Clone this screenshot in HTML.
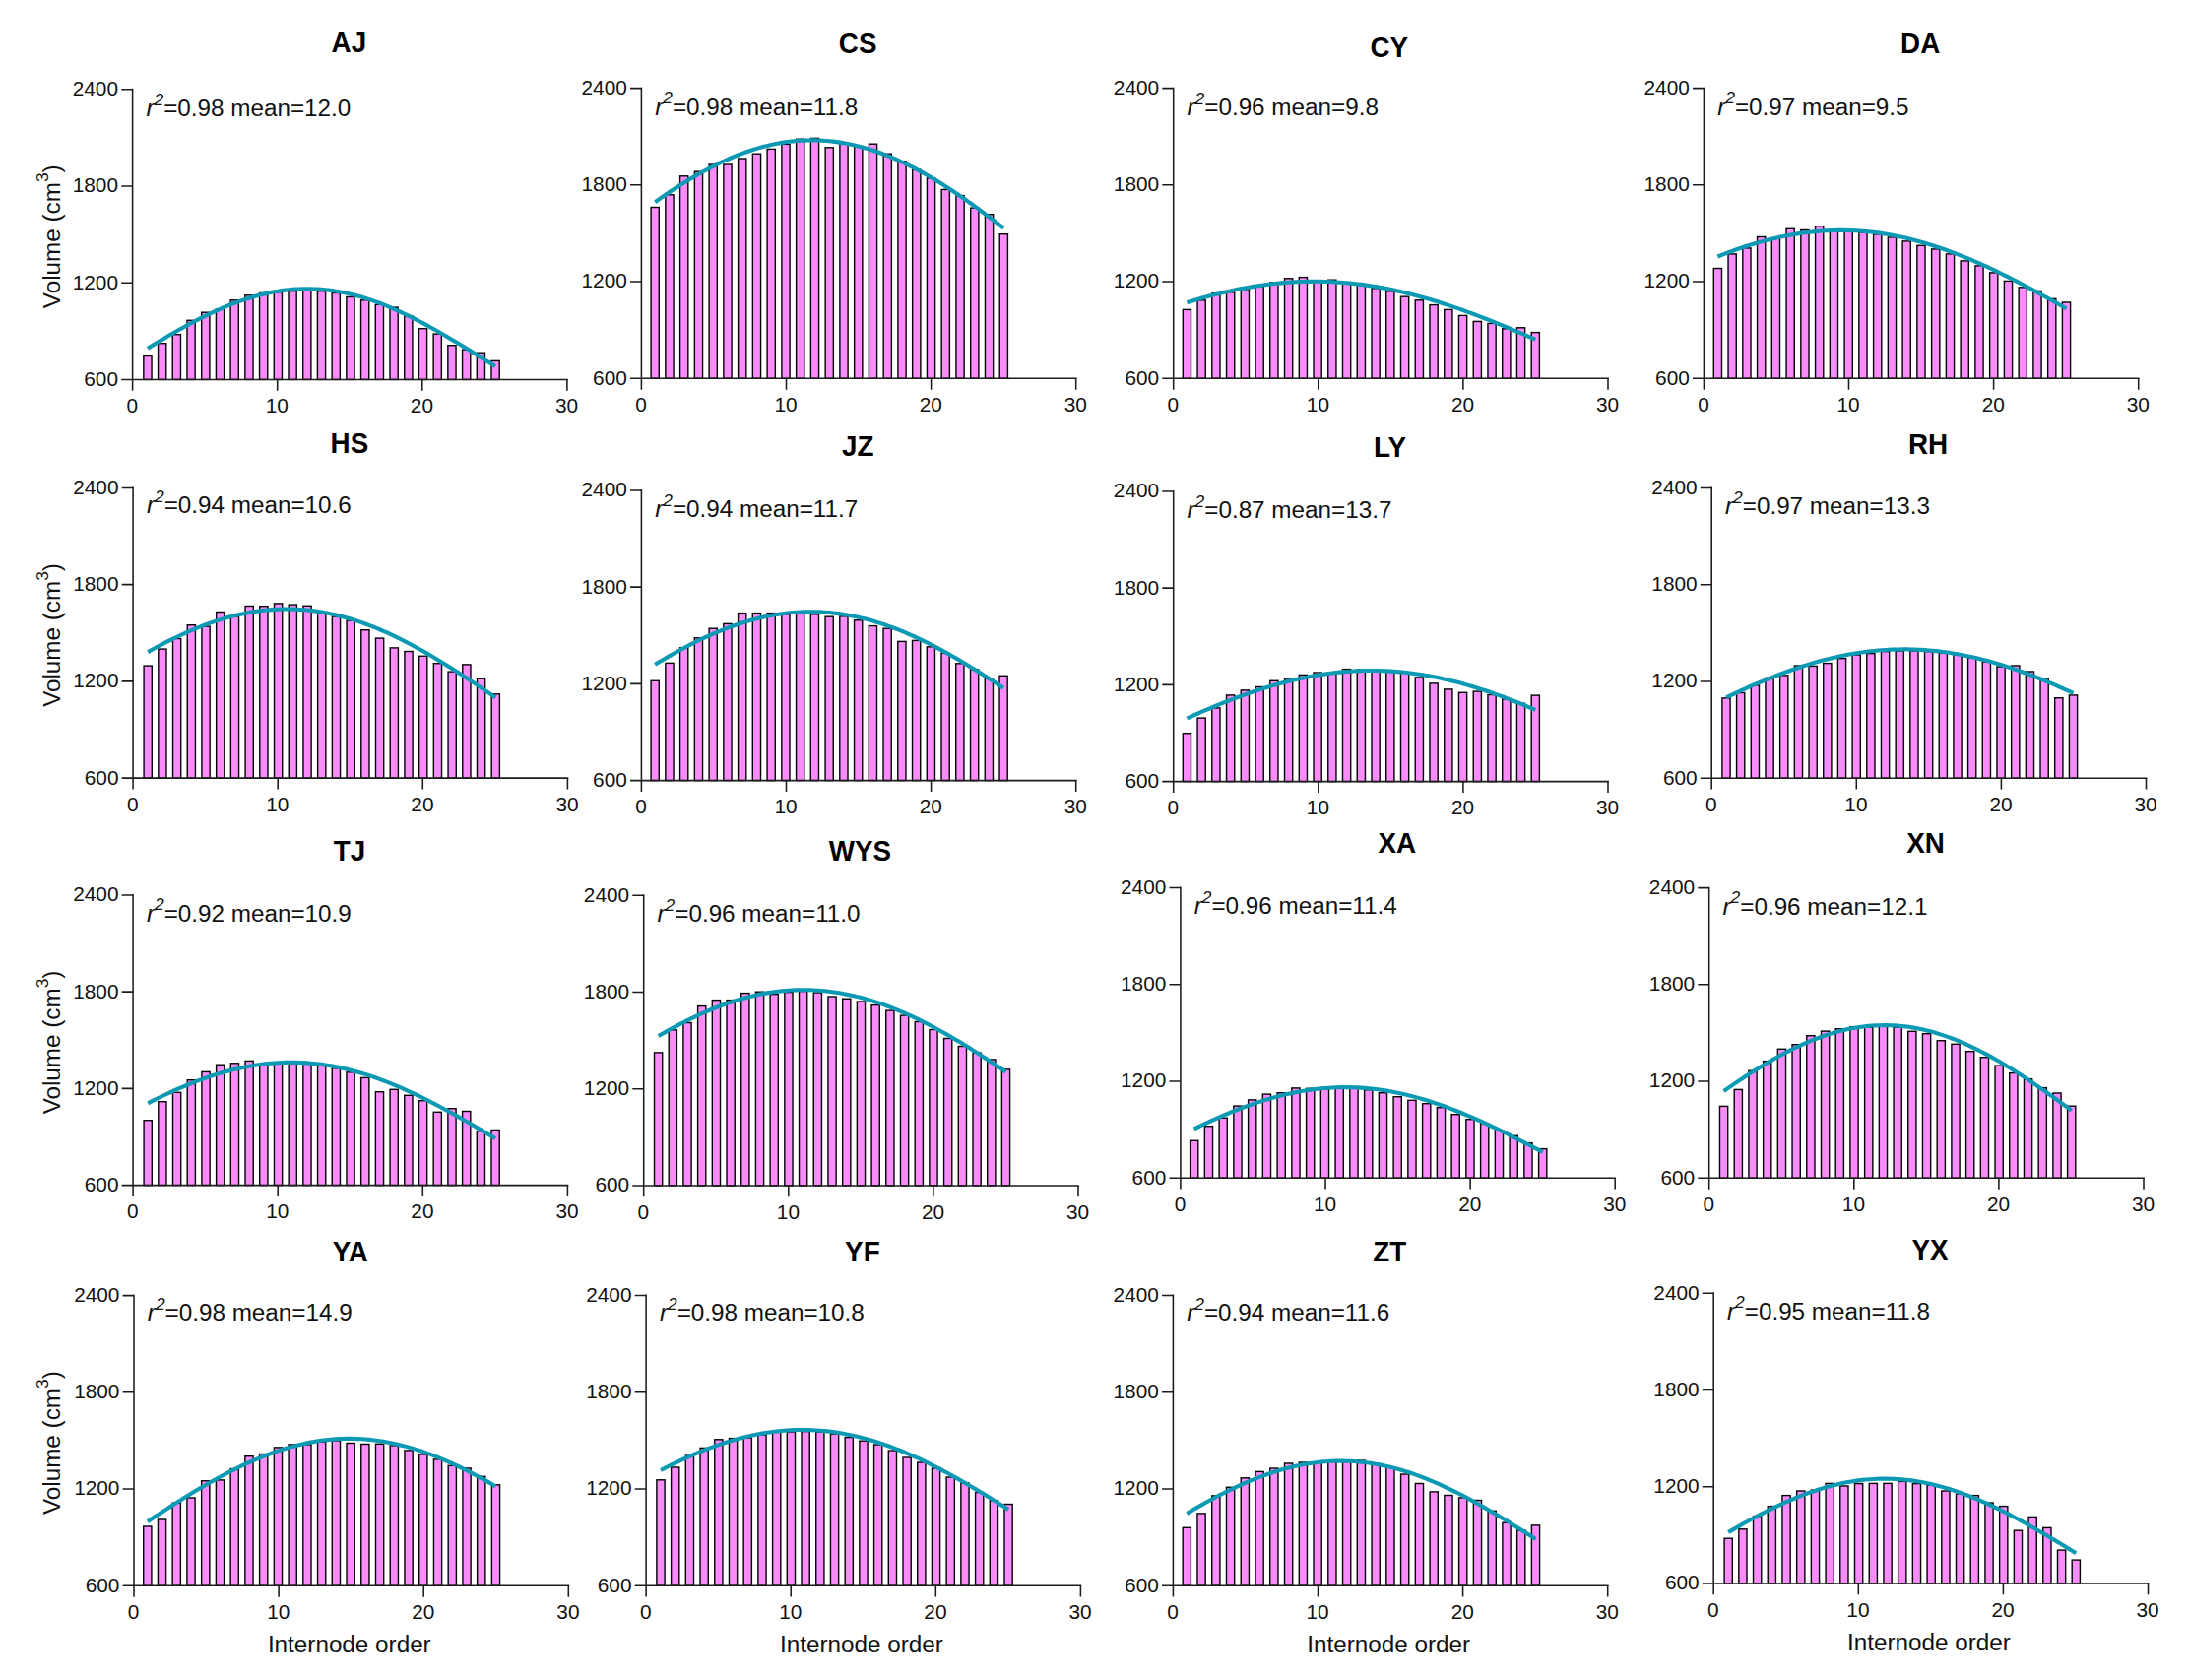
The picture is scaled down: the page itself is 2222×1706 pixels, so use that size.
<!DOCTYPE html>
<html lang="en"><head><meta charset="utf-8"><title>Internode volume by internode order</title>
<style>
html,body{margin:0;padding:0;background:#fff}
body{width:2222px;height:1706px;overflow:hidden}
svg{display:block}
text{font-family:"Liberation Sans",Arial,Helvetica,sans-serif;fill:#111}
.tk text{font-size:20.8px}
.tt{font-size:27.8px;font-weight:bold;fill:#000}
.an{font-size:24.25px}
.sup{font-size:17.4px}
</style></head><body>
<svg width="2222" height="1706" viewBox="0 0 2222 1706">
<rect width="2222" height="1706" fill="#fff"/>
<g>
<g fill="#FA8CFA" stroke="#000" stroke-width="1.4">
<rect x="145.83" y="361.5" width="8.2" height="23.9"/>
<rect x="160.55" y="348.7" width="8.2" height="36.7"/>
<rect x="175.26" y="339.7" width="8.2" height="45.7"/>
<rect x="189.98" y="325.3" width="8.2" height="60.1"/>
<rect x="204.69" y="317.2" width="8.2" height="68.2"/>
<rect x="219.41" y="313.9" width="8.2" height="71.5"/>
<rect x="234.12" y="304.8" width="8.2" height="80.6"/>
<rect x="248.84" y="299.8" width="8.2" height="85.6"/>
<rect x="263.55" y="297.5" width="8.2" height="87.9"/>
<rect x="278.27" y="296.6" width="8.2" height="88.8"/>
<rect x="292.98" y="295.6" width="8.2" height="89.8"/>
<rect x="307.7" y="295.3" width="8.2" height="90.1"/>
<rect x="322.41" y="295.6" width="8.2" height="89.8"/>
<rect x="337.13" y="297.5" width="8.2" height="87.9"/>
<rect x="351.85" y="301.5" width="8.2" height="83.9"/>
<rect x="366.56" y="304.8" width="8.2" height="80.6"/>
<rect x="381.28" y="309.3" width="8.2" height="76.1"/>
<rect x="395.99" y="312.1" width="8.2" height="73.3"/>
<rect x="410.71" y="320.7" width="8.2" height="64.7"/>
<rect x="425.42" y="333.7" width="8.2" height="51.7"/>
<rect x="440.14" y="339.1" width="8.2" height="46.3"/>
<rect x="454.85" y="350.7" width="8.2" height="34.7"/>
<rect x="469.57" y="355.1" width="8.2" height="30.3"/>
<rect x="484.28" y="358.2" width="8.2" height="27.2"/>
<rect x="499" y="366.4" width="8.2" height="19"/>
</g>
<g stroke="#1c1c1c" stroke-width="1.55" fill="none">
<path d="M134.6 89.8 V385.4 H576.8"/>
<path d="M123.2 385.4H134.6M123.2 287.17H134.6M123.2 188.93H134.6M123.2 90.7H134.6M134.6 385.4V396.8M281.7 385.4V396.8M428.8 385.4V396.8M575.9 385.4V396.8"/>
</g>
<path d="M149.93 353.8 L153.61 351.55 L157.29 349.31 L160.97 347.09 L164.65 344.89 L168.32 342.71 L172 340.54 L175.68 338.41 L179.36 336.3 L183.04 334.22 L186.72 332.17 L190.4 330.15 L194.08 328.16 L197.76 326.22 L201.43 324.31 L205.11 322.44 L208.79 320.61 L212.47 318.83 L216.15 317.1 L219.83 315.41 L223.51 313.77 L227.19 312.19 L230.86 310.66 L234.54 309.18 L238.22 307.76 L241.9 306.4 L245.58 305.1 L249.26 303.86 L252.94 302.69 L256.62 301.58 L260.3 300.53 L263.97 299.55 L267.65 298.64 L271.33 297.8 L275.01 297.02 L278.69 296.32 L282.37 295.69 L286.05 295.13 L289.73 294.65 L293.41 294.24 L297.08 293.9 L300.76 293.64 L304.44 293.45 L308.12 293.34 L311.8 293.3 L315.48 293.34 L319.16 293.45 L322.84 293.64 L326.51 293.9 L330.19 294.24 L333.87 294.65 L337.55 295.13 L341.23 295.69 L344.91 296.32 L348.59 297.03 L352.27 297.8 L355.95 298.64 L359.62 299.55 L363.3 300.53 L366.98 301.58 L370.66 302.69 L374.34 303.87 L378.02 305.11 L381.7 306.41 L385.38 307.77 L389.06 309.19 L392.73 310.66 L396.41 312.2 L400.09 313.78 L403.77 315.42 L407.45 317.11 L411.13 318.84 L414.81 320.62 L418.49 322.45 L422.17 324.32 L425.84 326.23 L429.52 328.17 L433.2 330.16 L436.88 332.18 L440.56 334.23 L444.24 336.31 L447.92 338.42 L451.6 340.56 L455.27 342.72 L458.95 344.9 L462.63 347.11 L466.31 349.33 L469.99 351.57 L473.67 353.82 L477.35 356.08 L481.03 358.35 L484.71 360.64 L488.38 362.92 L492.06 365.22 L495.74 367.51 L499.42 369.81 L503.1 372.1" fill="none" stroke="#0C99B3" stroke-width="4.1" stroke-linecap="butt" stroke-linejoin="round"/>
<g class="tk">
<text x="120" y="391.8" text-anchor="end">600</text>
<text x="120" y="293.57" text-anchor="end">1200</text>
<text x="120" y="195.33" text-anchor="end">1800</text>
<text x="120" y="97.1" text-anchor="end">2400</text>
<text x="134.2" y="419.1" text-anchor="middle">0</text>
<text x="281.3" y="419.1" text-anchor="middle">10</text>
<text x="428.4" y="419.1" text-anchor="middle">20</text>
<text x="575.5" y="419.1" text-anchor="middle">30</text>
</g>
<text class="tt" transform="scale(1 1.04)" x="354.4" y="51.06" text-anchor="middle">AJ</text>
<text class="an" x="148.4" y="118.3"><tspan font-style="italic">r</tspan><tspan class="sup" font-style="italic" dy="-11.3">2</tspan><tspan dy="11.3">=0.98 mean=12.0</tspan></text>
<text class="an" transform="translate(60.5 240.25) rotate(-90)" text-anchor="middle">Volume (cm<tspan class="sup" dy="-11.5">3</tspan><tspan dy="11.5">)</tspan></text>
</g>
<g>
<g fill="#FA8CFA" stroke="#000" stroke-width="1.4">
<rect x="661.1" y="210.5" width="8.2" height="173.8"/>
<rect x="675.85" y="197.8" width="8.2" height="186.5"/>
<rect x="690.61" y="178.8" width="8.2" height="205.5"/>
<rect x="705.36" y="174.2" width="8.2" height="210.1"/>
<rect x="720.12" y="167" width="8.2" height="217.3"/>
<rect x="734.87" y="167" width="8.2" height="217.3"/>
<rect x="749.62" y="161" width="8.2" height="223.3"/>
<rect x="764.38" y="156.2" width="8.2" height="228.1"/>
<rect x="779.13" y="151.4" width="8.2" height="232.9"/>
<rect x="793.89" y="146.4" width="8.2" height="237.9"/>
<rect x="808.64" y="141.2" width="8.2" height="243.1"/>
<rect x="823.4" y="140.4" width="8.2" height="243.9"/>
<rect x="838.15" y="149.8" width="8.2" height="234.5"/>
<rect x="852.9" y="145.8" width="8.2" height="238.5"/>
<rect x="867.66" y="148.8" width="8.2" height="235.5"/>
<rect x="882.41" y="146.2" width="8.2" height="238.1"/>
<rect x="897.17" y="156.2" width="8.2" height="228.1"/>
<rect x="911.92" y="163.8" width="8.2" height="220.5"/>
<rect x="926.67" y="172.2" width="8.2" height="212.1"/>
<rect x="941.43" y="180.8" width="8.2" height="203.5"/>
<rect x="956.18" y="192.4" width="8.2" height="191.9"/>
<rect x="970.94" y="198.6" width="8.2" height="185.7"/>
<rect x="985.69" y="211.1" width="8.2" height="173.2"/>
<rect x="1000.45" y="217.7" width="8.2" height="166.6"/>
<rect x="1015.2" y="237.7" width="8.2" height="146.6"/>
</g>
<g stroke="#1c1c1c" stroke-width="1.55" fill="none">
<path d="M651.4 88.7 V384.3 H1093.6"/>
<path d="M640 384.3H651.4M640 286.07H651.4M640 187.83H651.4M640 89.6H651.4M651.4 384.3V395.7M798.5 384.3V395.7M945.6 384.3V395.7M1092.7 384.3V395.7"/>
</g>
<path d="M665.2 205.2 L668.89 202.6 L672.58 200.03 L676.27 197.51 L679.95 195.02 L683.64 192.58 L687.33 190.17 L691.02 187.82 L694.71 185.51 L698.4 183.24 L702.09 181.03 L705.77 178.87 L709.46 176.75 L713.15 174.69 L716.84 172.69 L720.53 170.73 L724.22 168.84 L727.91 167 L731.59 165.22 L735.28 163.5 L738.97 161.85 L742.66 160.25 L746.35 158.72 L750.04 157.25 L753.73 155.84 L757.41 154.5 L761.1 153.23 L764.79 152.02 L768.48 150.89 L772.17 149.82 L775.86 148.82 L779.54 147.89 L783.23 147.03 L786.92 146.25 L790.61 145.53 L794.3 144.89 L797.99 144.32 L801.68 143.83 L805.36 143.4 L809.05 143.06 L812.74 142.78 L816.43 142.58 L820.12 142.45 L823.81 142.4 L827.5 142.42 L831.18 142.52 L834.87 142.69 L838.56 142.94 L842.25 143.26 L845.94 143.65 L849.63 144.11 L853.32 144.65 L857 145.27 L860.69 145.95 L864.38 146.71 L868.07 147.53 L871.76 148.43 L875.45 149.4 L879.14 150.44 L882.82 151.55 L886.51 152.73 L890.2 153.97 L893.89 155.28 L897.58 156.66 L901.27 158.1 L904.96 159.61 L908.64 161.18 L912.33 162.81 L916.02 164.5 L919.71 166.26 L923.4 168.07 L927.09 169.94 L930.77 171.86 L934.46 173.85 L938.15 175.88 L941.84 177.97 L945.53 180.12 L949.22 182.31 L952.91 184.55 L956.59 186.84 L960.28 189.17 L963.97 191.56 L967.66 193.98 L971.35 196.45 L975.04 198.95 L978.73 201.5 L982.41 204.09 L986.1 206.71 L989.79 209.37 L993.48 212.06 L997.17 214.78 L1000.86 217.53 L1004.55 220.31 L1008.23 223.12 L1011.92 225.96 L1015.61 228.82 L1019.3 231.7" fill="none" stroke="#0C99B3" stroke-width="4.1" stroke-linecap="butt" stroke-linejoin="round"/>
<g class="tk">
<text x="636.8" y="390.7" text-anchor="end">600</text>
<text x="636.8" y="292.47" text-anchor="end">1200</text>
<text x="636.8" y="194.23" text-anchor="end">1800</text>
<text x="636.8" y="96" text-anchor="end">2400</text>
<text x="651" y="418" text-anchor="middle">0</text>
<text x="798.1" y="418" text-anchor="middle">10</text>
<text x="945.2" y="418" text-anchor="middle">20</text>
<text x="1092.3" y="418" text-anchor="middle">30</text>
</g>
<text class="tt" transform="scale(1 1.04)" x="871.2" y="52.21" text-anchor="middle">CS</text>
<text class="an" x="665.2" y="116.5"><tspan font-style="italic">r</tspan><tspan class="sup" font-style="italic" dy="-11.3">2</tspan><tspan dy="11.3">=0.98 mean=11.8</tspan></text>
</g>
<g>
<g fill="#FA8CFA" stroke="#000" stroke-width="1.4">
<rect x="1201.3" y="314.4" width="8.2" height="69.9"/>
<rect x="1216.05" y="304.8" width="8.2" height="79.5"/>
<rect x="1230.79" y="297.8" width="8.2" height="86.5"/>
<rect x="1245.54" y="296.8" width="8.2" height="87.5"/>
<rect x="1260.28" y="293.8" width="8.2" height="90.5"/>
<rect x="1275.03" y="290.8" width="8.2" height="93.5"/>
<rect x="1289.78" y="286.8" width="8.2" height="97.5"/>
<rect x="1304.52" y="282.8" width="8.2" height="101.5"/>
<rect x="1319.27" y="281.6" width="8.2" height="102.7"/>
<rect x="1334.01" y="285.8" width="8.2" height="98.5"/>
<rect x="1348.76" y="284.2" width="8.2" height="100.1"/>
<rect x="1363.5" y="286.8" width="8.2" height="97.5"/>
<rect x="1378.25" y="289.2" width="8.2" height="95.1"/>
<rect x="1393" y="292.8" width="8.2" height="91.5"/>
<rect x="1407.74" y="295.8" width="8.2" height="88.5"/>
<rect x="1422.49" y="301.2" width="8.2" height="83.1"/>
<rect x="1437.23" y="304.8" width="8.2" height="79.5"/>
<rect x="1451.98" y="309.6" width="8.2" height="74.7"/>
<rect x="1466.73" y="314.4" width="8.2" height="69.9"/>
<rect x="1481.47" y="320.4" width="8.2" height="63.9"/>
<rect x="1496.22" y="326.4" width="8.2" height="57.9"/>
<rect x="1510.96" y="328.4" width="8.2" height="55.9"/>
<rect x="1525.71" y="333.8" width="8.2" height="50.5"/>
<rect x="1540.45" y="332.8" width="8.2" height="51.5"/>
<rect x="1555.2" y="337.6" width="8.2" height="46.7"/>
</g>
<g stroke="#1c1c1c" stroke-width="1.55" fill="none">
<path d="M1191.7 88.7 V384.3 H1633.9"/>
<path d="M1180.3 384.3H1191.7M1180.3 286.07H1191.7M1180.3 187.83H1191.7M1180.3 89.6H1191.7M1191.7 384.3V395.7M1338.8 384.3V395.7M1485.9 384.3V395.7M1633 384.3V395.7"/>
</g>
<path d="M1205.4 307.2 L1209.09 306.07 L1212.77 304.96 L1216.46 303.87 L1220.15 302.82 L1223.83 301.79 L1227.52 300.79 L1231.21 299.82 L1234.89 298.87 L1238.58 297.96 L1242.26 297.08 L1245.95 296.22 L1249.64 295.4 L1253.32 294.61 L1257.01 293.85 L1260.7 293.12 L1264.38 292.43 L1268.07 291.76 L1271.76 291.14 L1275.44 290.54 L1279.13 289.98 L1282.82 289.45 L1286.5 288.96 L1290.19 288.5 L1293.88 288.08 L1297.56 287.69 L1301.25 287.34 L1304.93 287.03 L1308.62 286.75 L1312.31 286.5 L1315.99 286.29 L1319.68 286.12 L1323.37 285.99 L1327.05 285.89 L1330.74 285.83 L1334.43 285.8 L1338.11 285.81 L1341.8 285.86 L1345.49 285.95 L1349.17 286.07 L1352.86 286.24 L1356.54 286.44 L1360.23 286.68 L1363.92 286.95 L1367.6 287.26 L1371.29 287.61 L1374.98 288 L1378.66 288.42 L1382.35 288.88 L1386.04 289.38 L1389.72 289.91 L1393.41 290.48 L1397.1 291.08 L1400.78 291.72 L1404.47 292.39 L1408.16 293.1 L1411.84 293.84 L1415.53 294.61 L1419.21 295.42 L1422.9 296.26 L1426.59 297.13 L1430.27 298.03 L1433.96 298.97 L1437.65 299.93 L1441.33 300.93 L1445.02 301.95 L1448.71 303 L1452.39 304.08 L1456.08 305.19 L1459.77 306.33 L1463.45 307.49 L1467.14 308.68 L1470.83 309.89 L1474.51 311.13 L1478.2 312.39 L1481.88 313.67 L1485.57 314.98 L1489.26 316.31 L1492.94 317.66 L1496.63 319.03 L1500.32 320.42 L1504 321.83 L1507.69 323.26 L1511.38 324.71 L1515.06 326.17 L1518.75 327.65 L1522.44 329.15 L1526.12 330.66 L1529.81 332.18 L1533.49 333.72 L1537.18 335.27 L1540.87 336.83 L1544.55 338.41 L1548.24 339.99 L1551.93 341.59 L1555.61 343.19 L1559.3 344.8" fill="none" stroke="#0C99B3" stroke-width="4.1" stroke-linecap="butt" stroke-linejoin="round"/>
<g class="tk">
<text x="1177.1" y="390.7" text-anchor="end">600</text>
<text x="1177.1" y="292.47" text-anchor="end">1200</text>
<text x="1177.1" y="194.23" text-anchor="end">1800</text>
<text x="1177.1" y="96" text-anchor="end">2400</text>
<text x="1191.3" y="418" text-anchor="middle">0</text>
<text x="1338.4" y="418" text-anchor="middle">10</text>
<text x="1485.5" y="418" text-anchor="middle">20</text>
<text x="1632.6" y="418" text-anchor="middle">30</text>
</g>
<text class="tt" transform="scale(1 1.04)" x="1410.7" y="55.77" text-anchor="middle">CY</text>
<text class="an" x="1205.5" y="116.9"><tspan font-style="italic">r</tspan><tspan class="sup" font-style="italic" dy="-11.3">2</tspan><tspan dy="11.3">=0.96 mean=9.8</tspan></text>
</g>
<g>
<g fill="#FA8CFA" stroke="#000" stroke-width="1.4">
<rect x="1740.3" y="272.5" width="8.2" height="111.8"/>
<rect x="1755.05" y="257.9" width="8.2" height="126.4"/>
<rect x="1769.81" y="251.9" width="8.2" height="132.4"/>
<rect x="1784.56" y="240.5" width="8.2" height="143.8"/>
<rect x="1799.32" y="241.9" width="8.2" height="142.4"/>
<rect x="1814.07" y="232.3" width="8.2" height="152"/>
<rect x="1828.83" y="233.5" width="8.2" height="150.8"/>
<rect x="1843.58" y="229.7" width="8.2" height="154.6"/>
<rect x="1858.33" y="234.9" width="8.2" height="149.4"/>
<rect x="1873.09" y="234.9" width="8.2" height="149.4"/>
<rect x="1887.84" y="235.9" width="8.2" height="148.4"/>
<rect x="1902.6" y="237.9" width="8.2" height="146.4"/>
<rect x="1917.35" y="240.9" width="8.2" height="143.4"/>
<rect x="1932.1" y="244.9" width="8.2" height="139.4"/>
<rect x="1946.86" y="249.3" width="8.2" height="135"/>
<rect x="1961.61" y="252.9" width="8.2" height="131.4"/>
<rect x="1976.37" y="257.9" width="8.2" height="126.4"/>
<rect x="1991.12" y="264.9" width="8.2" height="119.4"/>
<rect x="2005.88" y="269.9" width="8.2" height="114.4"/>
<rect x="2020.63" y="276.9" width="8.2" height="107.4"/>
<rect x="2035.38" y="285.4" width="8.2" height="98.9"/>
<rect x="2050.14" y="291.8" width="8.2" height="92.5"/>
<rect x="2064.89" y="295.4" width="8.2" height="88.9"/>
<rect x="2079.65" y="303.4" width="8.2" height="80.9"/>
<rect x="2094.4" y="307" width="8.2" height="77.3"/>
</g>
<g stroke="#1c1c1c" stroke-width="1.55" fill="none">
<path d="M1730.4 88.7 V384.3 H2172.6"/>
<path d="M1719 384.3H1730.4M1719 286.07H1730.4M1719 187.83H1730.4M1719 89.6H1730.4M1730.4 384.3V395.7M1877.5 384.3V395.7M2024.6 384.3V395.7M2171.7 384.3V395.7"/>
</g>
<path d="M1744.4 260.5 L1748.09 259.04 L1751.78 257.61 L1755.47 256.22 L1759.15 254.87 L1762.84 253.55 L1766.53 252.27 L1770.22 251.02 L1773.91 249.82 L1777.6 248.65 L1781.29 247.53 L1784.97 246.45 L1788.66 245.4 L1792.35 244.4 L1796.04 243.45 L1799.73 242.53 L1803.42 241.66 L1807.11 240.83 L1810.79 240.05 L1814.48 239.32 L1818.17 238.62 L1821.86 237.98 L1825.55 237.38 L1829.24 236.83 L1832.93 236.32 L1836.61 235.86 L1840.3 235.45 L1843.99 235.09 L1847.68 234.77 L1851.37 234.51 L1855.06 234.29 L1858.74 234.12 L1862.43 234 L1866.12 233.92 L1869.81 233.9 L1873.5 233.92 L1877.19 234 L1880.88 234.12 L1884.56 234.3 L1888.25 234.52 L1891.94 234.8 L1895.63 235.12 L1899.32 235.49 L1903.01 235.91 L1906.7 236.38 L1910.38 236.9 L1914.07 237.46 L1917.76 238.08 L1921.45 238.74 L1925.14 239.44 L1928.83 240.2 L1932.52 241 L1936.2 241.84 L1939.89 242.74 L1943.58 243.67 L1947.27 244.65 L1950.96 245.67 L1954.65 246.74 L1958.34 247.85 L1962.02 249 L1965.71 250.19 L1969.4 251.42 L1973.09 252.69 L1976.78 254 L1980.47 255.35 L1984.16 256.73 L1987.84 258.15 L1991.53 259.61 L1995.22 261.1 L1998.91 262.63 L2002.6 264.19 L2006.29 265.78 L2009.97 267.4 L2013.66 269.06 L2017.35 270.74 L2021.04 272.45 L2024.73 274.19 L2028.42 275.96 L2032.11 277.75 L2035.79 279.57 L2039.48 281.42 L2043.17 283.28 L2046.86 285.17 L2050.55 287.08 L2054.24 289.01 L2057.93 290.96 L2061.61 292.93 L2065.3 294.91 L2068.99 296.91 L2072.68 298.93 L2076.37 300.96 L2080.06 303.01 L2083.75 305.06 L2087.43 307.13 L2091.12 309.21 L2094.81 311.3 L2098.5 313.4" fill="none" stroke="#0C99B3" stroke-width="4.1" stroke-linecap="butt" stroke-linejoin="round"/>
<g class="tk">
<text x="1715.8" y="390.7" text-anchor="end">600</text>
<text x="1715.8" y="292.47" text-anchor="end">1200</text>
<text x="1715.8" y="194.23" text-anchor="end">1800</text>
<text x="1715.8" y="96" text-anchor="end">2400</text>
<text x="1730" y="418" text-anchor="middle">0</text>
<text x="1877.1" y="418" text-anchor="middle">10</text>
<text x="2024.2" y="418" text-anchor="middle">20</text>
<text x="2171.3" y="418" text-anchor="middle">30</text>
</g>
<text class="tt" transform="scale(1 1.04)" x="1950.2" y="52.21" text-anchor="middle">DA</text>
<text class="an" x="1744.2" y="116.5"><tspan font-style="italic">r</tspan><tspan class="sup" font-style="italic" dy="-11.3">2</tspan><tspan dy="11.3">=0.97 mean=9.5</tspan></text>
</g>
<g>
<g fill="#FA8CFA" stroke="#000" stroke-width="1.4">
<rect x="146.1" y="676.1" width="8.2" height="114"/>
<rect x="160.81" y="659.1" width="8.2" height="131"/>
<rect x="175.53" y="648.5" width="8.2" height="141.6"/>
<rect x="190.24" y="634.7" width="8.2" height="155.4"/>
<rect x="204.95" y="636.1" width="8.2" height="154"/>
<rect x="219.66" y="621.5" width="8.2" height="168.6"/>
<rect x="234.38" y="626.1" width="8.2" height="164"/>
<rect x="249.09" y="615.5" width="8.2" height="174.6"/>
<rect x="263.8" y="615.7" width="8.2" height="174.4"/>
<rect x="278.51" y="612.9" width="8.2" height="177.2"/>
<rect x="293.22" y="614.1" width="8.2" height="176"/>
<rect x="307.94" y="615.3" width="8.2" height="174.8"/>
<rect x="322.65" y="622.1" width="8.2" height="168"/>
<rect x="337.36" y="626.1" width="8.2" height="164"/>
<rect x="352.07" y="630.1" width="8.2" height="160"/>
<rect x="366.79" y="639.7" width="8.2" height="150.4"/>
<rect x="381.5" y="648.1" width="8.2" height="142"/>
<rect x="396.21" y="657.9" width="8.2" height="132.2"/>
<rect x="410.92" y="661.5" width="8.2" height="128.6"/>
<rect x="425.64" y="666.3" width="8.2" height="123.8"/>
<rect x="440.35" y="673.7" width="8.2" height="116.4"/>
<rect x="455.06" y="682.1" width="8.2" height="108"/>
<rect x="469.77" y="674.9" width="8.2" height="115.2"/>
<rect x="484.49" y="689.2" width="8.2" height="100.9"/>
<rect x="499.2" y="704.8" width="8.2" height="85.3"/>
</g>
<g stroke="#1c1c1c" stroke-width="1.55" fill="none">
<path d="M135.1 494.5 V790.1 H577.3"/>
<path d="M123.7 790.1H135.1M123.7 691.87H135.1M123.7 593.63H135.1M123.7 495.4H135.1M135.1 790.1V801.5M282.2 790.1V801.5M429.3 790.1V801.5M576.4 790.1V801.5"/>
</g>
<path d="M150.2 662.1 L153.88 660.04 L157.56 658.02 L161.23 656.03 L164.91 654.09 L168.59 652.18 L172.27 650.32 L175.95 648.5 L179.62 646.72 L183.3 644.98 L186.98 643.3 L190.66 641.66 L194.34 640.07 L198.02 638.52 L201.69 637.03 L205.37 635.59 L209.05 634.21 L212.73 632.87 L216.41 631.59 L220.08 630.37 L223.76 629.2 L227.44 628.09 L231.12 627.04 L234.8 626.04 L238.48 625.11 L242.15 624.23 L245.83 623.41 L249.51 622.66 L253.19 621.97 L256.87 621.33 L260.54 620.77 L264.22 620.26 L267.9 619.82 L271.58 619.44 L275.26 619.12 L278.93 618.87 L282.61 618.69 L286.29 618.56 L289.97 618.51 L293.65 618.51 L297.32 618.58 L301 618.72 L304.68 618.93 L308.36 619.2 L312.04 619.53 L315.72 619.93 L319.39 620.4 L323.07 620.93 L326.75 621.52 L330.43 622.18 L334.11 622.9 L337.78 623.68 L341.46 624.53 L345.14 625.43 L348.82 626.4 L352.5 627.43 L356.18 628.52 L359.85 629.66 L363.53 630.87 L367.21 632.13 L370.89 633.45 L374.57 634.82 L378.24 636.24 L381.92 637.72 L385.6 639.26 L389.28 640.84 L392.96 642.47 L396.63 644.15 L400.31 645.88 L403.99 647.66 L407.67 649.48 L411.35 651.35 L415.02 653.26 L418.7 655.21 L422.38 657.2 L426.06 659.22 L429.74 661.29 L433.42 663.39 L437.09 665.53 L440.77 667.7 L444.45 669.91 L448.13 672.14 L451.81 674.41 L455.48 676.7 L459.16 679.02 L462.84 681.36 L466.52 683.73 L470.2 686.12 L473.88 688.53 L477.55 690.96 L481.23 693.41 L484.91 695.87 L488.59 698.35 L492.27 700.85 L495.94 703.36 L499.62 705.87 L503.3 708.4" fill="none" stroke="#0C99B3" stroke-width="4.1" stroke-linecap="butt" stroke-linejoin="round"/>
<g class="tk">
<text x="120.5" y="796.5" text-anchor="end">600</text>
<text x="120.5" y="698.27" text-anchor="end">1200</text>
<text x="120.5" y="600.03" text-anchor="end">1800</text>
<text x="120.5" y="501.8" text-anchor="end">2400</text>
<text x="134.7" y="823.8" text-anchor="middle">0</text>
<text x="281.8" y="823.8" text-anchor="middle">10</text>
<text x="428.9" y="823.8" text-anchor="middle">20</text>
<text x="576" y="823.8" text-anchor="middle">30</text>
</g>
<text class="tt" transform="scale(1 1.04)" x="354.9" y="442.5" text-anchor="middle">HS</text>
<text class="an" x="148.9" y="521.2"><tspan font-style="italic">r</tspan><tspan class="sup" font-style="italic" dy="-11.3">2</tspan><tspan dy="11.3">=0.94 mean=10.6</tspan></text>
<text class="an" transform="translate(60.5 644.95) rotate(-90)" text-anchor="middle">Volume (cm<tspan class="sup" dy="-11.5">3</tspan><tspan dy="11.5">)</tspan></text>
</g>
<g>
<g fill="#FA8CFA" stroke="#000" stroke-width="1.4">
<rect x="661.1" y="691.3" width="8.2" height="101.3"/>
<rect x="675.85" y="673.4" width="8.2" height="119.2"/>
<rect x="690.59" y="657.8" width="8.2" height="134.8"/>
<rect x="705.34" y="647.8" width="8.2" height="144.8"/>
<rect x="720.08" y="638.2" width="8.2" height="154.4"/>
<rect x="734.83" y="633.4" width="8.2" height="159.2"/>
<rect x="749.58" y="622.6" width="8.2" height="170"/>
<rect x="764.32" y="622.6" width="8.2" height="170"/>
<rect x="779.07" y="622.6" width="8.2" height="170"/>
<rect x="793.81" y="623.8" width="8.2" height="168.8"/>
<rect x="808.56" y="623.2" width="8.2" height="169.4"/>
<rect x="823.3" y="623.8" width="8.2" height="168.8"/>
<rect x="838.05" y="626.2" width="8.2" height="166.4"/>
<rect x="852.8" y="625.8" width="8.2" height="166.8"/>
<rect x="867.54" y="629.8" width="8.2" height="162.8"/>
<rect x="882.29" y="635.6" width="8.2" height="157"/>
<rect x="897.03" y="638.2" width="8.2" height="154.4"/>
<rect x="911.78" y="651.4" width="8.2" height="141.2"/>
<rect x="926.52" y="650.4" width="8.2" height="142.2"/>
<rect x="941.27" y="656.8" width="8.2" height="135.8"/>
<rect x="956.02" y="663.2" width="8.2" height="129.4"/>
<rect x="970.76" y="673.8" width="8.2" height="118.8"/>
<rect x="985.51" y="679.8" width="8.2" height="112.8"/>
<rect x="1000.25" y="688.7" width="8.2" height="103.9"/>
<rect x="1015" y="686.3" width="8.2" height="106.3"/>
</g>
<g stroke="#1c1c1c" stroke-width="1.55" fill="none">
<path d="M651.4 497 V792.6 H1093.6"/>
<path d="M640 792.6H651.4M640 694.37H651.4M640 596.13H651.4M640 497.9H651.4M651.4 792.6V804M798.5 792.6V804M945.6 792.6V804M1092.7 792.6V804"/>
</g>
<path d="M665.2 674.8 L668.89 672.58 L672.57 670.39 L676.26 668.23 L679.95 666.1 L683.63 664.01 L687.32 661.95 L691.01 659.93 L694.69 657.95 L698.38 656.01 L702.06 654.11 L705.75 652.25 L709.44 650.44 L713.12 648.67 L716.81 646.94 L720.5 645.27 L724.18 643.64 L727.87 642.06 L731.56 640.54 L735.24 639.06 L738.93 637.64 L742.62 636.27 L746.3 634.95 L749.99 633.69 L753.68 632.49 L757.36 631.34 L761.05 630.25 L764.73 629.22 L768.42 628.25 L772.11 627.34 L775.79 626.49 L779.48 625.7 L783.17 624.98 L786.85 624.31 L790.54 623.71 L794.23 623.18 L797.91 622.7 L801.6 622.3 L805.29 621.95 L808.97 621.67 L812.66 621.46 L816.34 621.31 L820.03 621.22 L823.72 621.2 L827.4 621.25 L831.09 621.36 L834.78 621.53 L838.46 621.77 L842.15 622.07 L845.84 622.44 L849.52 622.87 L853.21 623.36 L856.9 623.92 L860.58 624.54 L864.27 625.22 L867.96 625.96 L871.64 626.77 L875.33 627.63 L879.01 628.56 L882.7 629.54 L886.39 630.58 L890.07 631.68 L893.76 632.84 L897.45 634.06 L901.13 635.33 L904.82 636.65 L908.51 638.03 L912.19 639.46 L915.88 640.94 L919.57 642.47 L923.25 644.06 L926.94 645.69 L930.62 647.37 L934.31 649.09 L938 650.86 L941.68 652.68 L945.37 654.54 L949.06 656.44 L952.74 658.38 L956.43 660.35 L960.12 662.37 L963.8 664.42 L967.49 666.51 L971.18 668.64 L974.86 670.79 L978.55 672.98 L982.24 675.19 L985.92 677.44 L989.61 679.71 L993.29 682.01 L996.98 684.33 L1000.67 686.68 L1004.35 689.04 L1008.04 691.43 L1011.73 693.84 L1015.41 696.26 L1019.1 698.7" fill="none" stroke="#0C99B3" stroke-width="4.1" stroke-linecap="butt" stroke-linejoin="round"/>
<g class="tk">
<text x="636.8" y="799" text-anchor="end">600</text>
<text x="636.8" y="700.77" text-anchor="end">1200</text>
<text x="636.8" y="602.53" text-anchor="end">1800</text>
<text x="636.8" y="504.3" text-anchor="end">2400</text>
<text x="651" y="826.3" text-anchor="middle">0</text>
<text x="798.1" y="826.3" text-anchor="middle">10</text>
<text x="945.2" y="826.3" text-anchor="middle">20</text>
<text x="1092.3" y="826.3" text-anchor="middle">30</text>
</g>
<text class="tt" transform="scale(1 1.04)" x="871.2" y="445.48" text-anchor="middle">JZ</text>
<text class="an" x="665.2" y="524.8"><tspan font-style="italic">r</tspan><tspan class="sup" font-style="italic" dy="-11.3">2</tspan><tspan dy="11.3">=0.94 mean=11.7</tspan></text>
</g>
<g>
<g fill="#FA8CFA" stroke="#000" stroke-width="1.4">
<rect x="1201.3" y="744.7" width="8.2" height="48.9"/>
<rect x="1216.05" y="729.1" width="8.2" height="64.5"/>
<rect x="1230.79" y="718.9" width="8.2" height="74.7"/>
<rect x="1245.54" y="705.9" width="8.2" height="87.7"/>
<rect x="1260.28" y="700.9" width="8.2" height="92.7"/>
<rect x="1275.03" y="697.5" width="8.2" height="96.1"/>
<rect x="1289.78" y="691.3" width="8.2" height="102.3"/>
<rect x="1304.52" y="689.9" width="8.2" height="103.7"/>
<rect x="1319.27" y="685.4" width="8.2" height="108.2"/>
<rect x="1334.01" y="683" width="8.2" height="110.6"/>
<rect x="1348.76" y="683.4" width="8.2" height="110.2"/>
<rect x="1363.5" y="679.6" width="8.2" height="114"/>
<rect x="1378.25" y="680" width="8.2" height="113.6"/>
<rect x="1393" y="681.6" width="8.2" height="112"/>
<rect x="1407.74" y="681.6" width="8.2" height="112"/>
<rect x="1422.49" y="683" width="8.2" height="110.6"/>
<rect x="1437.23" y="687.9" width="8.2" height="105.7"/>
<rect x="1451.98" y="693.9" width="8.2" height="99.7"/>
<rect x="1466.73" y="699.9" width="8.2" height="93.7"/>
<rect x="1481.47" y="703.3" width="8.2" height="90.3"/>
<rect x="1496.22" y="702.1" width="8.2" height="91.5"/>
<rect x="1510.96" y="705.5" width="8.2" height="88.1"/>
<rect x="1525.71" y="709.9" width="8.2" height="83.7"/>
<rect x="1540.45" y="714.3" width="8.2" height="79.3"/>
<rect x="1555.2" y="706.1" width="8.2" height="87.5"/>
</g>
<g stroke="#1c1c1c" stroke-width="1.55" fill="none">
<path d="M1191.7 498 V793.6 H1633.9"/>
<path d="M1180.3 793.6H1191.7M1180.3 695.37H1191.7M1180.3 597.13H1191.7M1180.3 498.9H1191.7M1191.7 793.6V805M1338.8 793.6V805M1485.9 793.6V805M1633 793.6V805"/>
</g>
<path d="M1205.4 729.5 L1209.09 727.84 L1212.77 726.19 L1216.46 724.56 L1220.15 722.95 L1223.83 721.36 L1227.52 719.79 L1231.21 718.24 L1234.89 716.71 L1238.58 715.2 L1242.26 713.72 L1245.95 712.26 L1249.64 710.82 L1253.32 709.41 L1257.01 708.03 L1260.7 706.67 L1264.38 705.34 L1268.07 704.04 L1271.76 702.77 L1275.44 701.53 L1279.13 700.32 L1282.82 699.14 L1286.5 697.99 L1290.19 696.88 L1293.88 695.79 L1297.56 694.75 L1301.25 693.73 L1304.93 692.76 L1308.62 691.82 L1312.31 690.91 L1315.99 690.04 L1319.68 689.21 L1323.37 688.41 L1327.05 687.66 L1330.74 686.94 L1334.43 686.26 L1338.11 685.63 L1341.8 685.03 L1345.49 684.47 L1349.17 683.95 L1352.86 683.48 L1356.54 683.04 L1360.23 682.65 L1363.92 682.3 L1367.6 681.99 L1371.29 681.72 L1374.98 681.49 L1378.66 681.31 L1382.35 681.17 L1386.04 681.07 L1389.72 681.01 L1393.41 681 L1397.1 681.03 L1400.78 681.1 L1404.47 681.22 L1408.16 681.38 L1411.84 681.58 L1415.53 681.83 L1419.21 682.12 L1422.9 682.45 L1426.59 682.82 L1430.27 683.24 L1433.96 683.7 L1437.65 684.2 L1441.33 684.74 L1445.02 685.32 L1448.71 685.94 L1452.39 686.61 L1456.08 687.31 L1459.77 688.05 L1463.45 688.83 L1467.14 689.65 L1470.83 690.51 L1474.51 691.4 L1478.2 692.34 L1481.88 693.31 L1485.57 694.31 L1489.26 695.35 L1492.94 696.42 L1496.63 697.53 L1500.32 698.67 L1504 699.85 L1507.69 701.06 L1511.38 702.29 L1515.06 703.56 L1518.75 704.86 L1522.44 706.19 L1526.12 707.54 L1529.81 708.93 L1533.49 710.34 L1537.18 711.78 L1540.87 713.24 L1544.55 714.72 L1548.24 716.24 L1551.93 717.77 L1555.61 719.32 L1559.3 720.9" fill="none" stroke="#0C99B3" stroke-width="4.1" stroke-linecap="butt" stroke-linejoin="round"/>
<g class="tk">
<text x="1177.1" y="800" text-anchor="end">600</text>
<text x="1177.1" y="701.77" text-anchor="end">1200</text>
<text x="1177.1" y="603.53" text-anchor="end">1800</text>
<text x="1177.1" y="505.3" text-anchor="end">2400</text>
<text x="1191.3" y="827.3" text-anchor="middle">0</text>
<text x="1338.4" y="827.3" text-anchor="middle">10</text>
<text x="1485.5" y="827.3" text-anchor="middle">20</text>
<text x="1632.6" y="827.3" text-anchor="middle">30</text>
</g>
<text class="tt" transform="scale(1 1.04)" x="1411.5" y="446.25" text-anchor="middle">LY</text>
<text class="an" x="1205.5" y="526"><tspan font-style="italic">r</tspan><tspan class="sup" font-style="italic" dy="-11.3">2</tspan><tspan dy="11.3">=0.87 mean=13.7</tspan></text>
</g>
<g>
<g fill="#FA8CFA" stroke="#000" stroke-width="1.4">
<rect x="1748.9" y="708.9" width="8.2" height="81.3"/>
<rect x="1763.59" y="703.5" width="8.2" height="86.7"/>
<rect x="1778.28" y="695.9" width="8.2" height="94.3"/>
<rect x="1792.96" y="688.3" width="8.2" height="101.9"/>
<rect x="1807.65" y="685.9" width="8.2" height="104.3"/>
<rect x="1822.34" y="676" width="8.2" height="114.2"/>
<rect x="1837.03" y="676.4" width="8.2" height="113.8"/>
<rect x="1851.71" y="673.6" width="8.2" height="116.6"/>
<rect x="1866.4" y="668.6" width="8.2" height="121.6"/>
<rect x="1881.09" y="665" width="8.2" height="125.2"/>
<rect x="1895.78" y="663.6" width="8.2" height="126.6"/>
<rect x="1910.46" y="661.6" width="8.2" height="128.6"/>
<rect x="1925.15" y="661" width="8.2" height="129.2"/>
<rect x="1939.84" y="661" width="8.2" height="129.2"/>
<rect x="1954.53" y="661.6" width="8.2" height="128.6"/>
<rect x="1969.21" y="663" width="8.2" height="127.2"/>
<rect x="1983.9" y="665" width="8.2" height="125.2"/>
<rect x="1998.59" y="668" width="8.2" height="122.2"/>
<rect x="2013.28" y="672" width="8.2" height="118.2"/>
<rect x="2027.96" y="677" width="8.2" height="113.2"/>
<rect x="2042.65" y="676" width="8.2" height="114.2"/>
<rect x="2057.34" y="682" width="8.2" height="108.2"/>
<rect x="2072.03" y="688.9" width="8.2" height="101.3"/>
<rect x="2086.71" y="708.7" width="8.2" height="81.5"/>
<rect x="2101.4" y="705.9" width="8.2" height="84.3"/>
</g>
<g stroke="#1c1c1c" stroke-width="1.55" fill="none">
<path d="M1738.2 494.6 V790.2 H2180.4"/>
<path d="M1726.8 790.2H1738.2M1726.8 691.97H1738.2M1726.8 593.73H1738.2M1726.8 495.5H1738.2M1738.2 790.2V801.6M1885.3 790.2V801.6M2032.4 790.2V801.6M2179.5 790.2V801.6"/>
</g>
<path d="M1753 708.3 L1756.67 706.55 L1760.34 704.82 L1764.02 703.11 L1767.69 701.42 L1771.36 699.76 L1775.03 698.11 L1778.7 696.49 L1782.38 694.9 L1786.05 693.33 L1789.72 691.79 L1793.39 690.27 L1797.06 688.78 L1800.73 687.32 L1804.41 685.89 L1808.08 684.49 L1811.75 683.13 L1815.42 681.79 L1819.09 680.49 L1822.77 679.22 L1826.44 677.98 L1830.11 676.78 L1833.78 675.61 L1837.45 674.48 L1841.12 673.39 L1844.8 672.33 L1848.47 671.31 L1852.14 670.33 L1855.81 669.39 L1859.48 668.49 L1863.16 667.63 L1866.83 666.8 L1870.5 666.03 L1874.17 665.29 L1877.84 664.59 L1881.52 663.94 L1885.19 663.33 L1888.86 662.76 L1892.53 662.23 L1896.2 661.75 L1899.88 661.32 L1903.55 660.92 L1907.22 660.57 L1910.89 660.27 L1914.56 660.01 L1918.23 659.8 L1921.91 659.63 L1925.58 659.51 L1929.25 659.43 L1932.92 659.4 L1936.59 659.41 L1940.27 659.47 L1943.94 659.58 L1947.61 659.73 L1951.28 659.92 L1954.95 660.16 L1958.62 660.44 L1962.3 660.77 L1965.97 661.14 L1969.64 661.56 L1973.31 662.02 L1976.98 662.52 L1980.66 663.07 L1984.33 663.66 L1988 664.3 L1991.67 664.97 L1995.34 665.69 L1999.02 666.45 L2002.69 667.25 L2006.36 668.09 L2010.03 668.97 L2013.7 669.89 L2017.38 670.85 L2021.05 671.85 L2024.72 672.88 L2028.39 673.95 L2032.06 675.06 L2035.73 676.21 L2039.41 677.39 L2043.08 678.61 L2046.75 679.86 L2050.42 681.14 L2054.09 682.46 L2057.77 683.81 L2061.44 685.19 L2065.11 686.6 L2068.78 688.04 L2072.45 689.51 L2076.12 691 L2079.8 692.53 L2083.47 694.08 L2087.14 695.66 L2090.81 697.26 L2094.48 698.89 L2098.16 700.54 L2101.83 702.21 L2105.5 703.9" fill="none" stroke="#0C99B3" stroke-width="4.1" stroke-linecap="butt" stroke-linejoin="round"/>
<g class="tk">
<text x="1723.6" y="796.6" text-anchor="end">600</text>
<text x="1723.6" y="698.37" text-anchor="end">1200</text>
<text x="1723.6" y="600.13" text-anchor="end">1800</text>
<text x="1723.6" y="501.9" text-anchor="end">2400</text>
<text x="1737.8" y="823.9" text-anchor="middle">0</text>
<text x="1884.9" y="823.9" text-anchor="middle">10</text>
<text x="2032" y="823.9" text-anchor="middle">20</text>
<text x="2179.1" y="823.9" text-anchor="middle">30</text>
</g>
<text class="tt" transform="scale(1 1.04)" x="1958" y="443.17" text-anchor="middle">RH</text>
<text class="an" x="1752" y="521.9"><tspan font-style="italic">r</tspan><tspan class="sup" font-style="italic" dy="-11.3">2</tspan><tspan dy="11.3">=0.97 mean=13.3</tspan></text>
</g>
<g>
<g fill="#FA8CFA" stroke="#000" stroke-width="1.4">
<rect x="146.1" y="1137.7" width="8.2" height="65.9"/>
<rect x="160.8" y="1118.7" width="8.2" height="84.9"/>
<rect x="175.51" y="1109.3" width="8.2" height="94.3"/>
<rect x="190.21" y="1096.7" width="8.2" height="106.9"/>
<rect x="204.92" y="1088.4" width="8.2" height="115.2"/>
<rect x="219.62" y="1081.2" width="8.2" height="122.4"/>
<rect x="234.33" y="1079.8" width="8.2" height="123.8"/>
<rect x="249.03" y="1077.4" width="8.2" height="126.2"/>
<rect x="263.73" y="1080.8" width="8.2" height="122.8"/>
<rect x="278.44" y="1079.8" width="8.2" height="123.8"/>
<rect x="293.14" y="1079.8" width="8.2" height="123.8"/>
<rect x="307.85" y="1080.4" width="8.2" height="123.2"/>
<rect x="322.55" y="1082.2" width="8.2" height="121.4"/>
<rect x="337.25" y="1084.8" width="8.2" height="118.8"/>
<rect x="351.96" y="1088.8" width="8.2" height="114.8"/>
<rect x="366.66" y="1094.4" width="8.2" height="109.2"/>
<rect x="381.37" y="1108.7" width="8.2" height="94.9"/>
<rect x="396.07" y="1106.3" width="8.2" height="97.3"/>
<rect x="410.77" y="1112.3" width="8.2" height="91.3"/>
<rect x="425.48" y="1117.7" width="8.2" height="85.9"/>
<rect x="440.18" y="1129.3" width="8.2" height="74.3"/>
<rect x="454.89" y="1125.7" width="8.2" height="77.9"/>
<rect x="469.59" y="1128.5" width="8.2" height="75.1"/>
<rect x="484.3" y="1148.7" width="8.2" height="54.9"/>
<rect x="499" y="1147.5" width="8.2" height="56.1"/>
</g>
<g stroke="#1c1c1c" stroke-width="1.55" fill="none">
<path d="M135.1 908 V1203.6 H577.3"/>
<path d="M123.7 1203.6H135.1M123.7 1105.37H135.1M123.7 1007.13H135.1M123.7 908.9H135.1M135.1 1203.6V1215M282.2 1203.6V1215M429.3 1203.6V1215M576.4 1203.6V1215"/>
</g>
<path d="M150.2 1120.3 L153.88 1118.43 L157.55 1116.58 L161.23 1114.77 L164.9 1112.99 L168.58 1111.24 L172.26 1109.52 L175.93 1107.85 L179.61 1106.2 L183.28 1104.6 L186.96 1103.03 L190.64 1101.51 L194.31 1100.03 L197.99 1098.59 L201.66 1097.19 L205.34 1095.83 L209.02 1094.53 L212.69 1093.27 L216.37 1092.05 L220.04 1090.89 L223.72 1089.77 L227.4 1088.7 L231.07 1087.69 L234.75 1086.72 L238.43 1085.81 L242.1 1084.96 L245.78 1084.15 L249.45 1083.4 L253.13 1082.71 L256.81 1082.07 L260.48 1081.48 L264.16 1080.96 L267.83 1080.48 L271.51 1080.07 L275.19 1079.72 L278.86 1079.42 L282.54 1079.18 L286.21 1079 L289.89 1078.87 L293.57 1078.81 L297.24 1078.8 L300.92 1078.86 L304.59 1078.97 L308.27 1079.14 L311.95 1079.38 L315.62 1079.67 L319.3 1080.02 L322.97 1080.43 L326.65 1080.9 L330.33 1081.42 L334 1082 L337.68 1082.64 L341.35 1083.34 L345.03 1084.09 L348.71 1084.9 L352.38 1085.77 L356.06 1086.68 L359.73 1087.65 L363.41 1088.68 L367.09 1089.75 L370.76 1090.88 L374.44 1092.05 L378.11 1093.28 L381.79 1094.55 L385.47 1095.87 L389.14 1097.24 L392.82 1098.66 L396.49 1100.11 L400.17 1101.61 L403.85 1103.15 L407.52 1104.74 L411.2 1106.36 L414.88 1108.02 L418.55 1109.72 L422.23 1111.45 L425.9 1113.22 L429.58 1115.03 L433.26 1116.86 L436.93 1118.73 L440.61 1120.62 L444.28 1122.55 L447.96 1124.5 L451.64 1126.48 L455.31 1128.48 L458.99 1130.5 L462.66 1132.55 L466.34 1134.61 L470.02 1136.7 L473.69 1138.8 L477.37 1140.92 L481.04 1143.06 L484.72 1145.2 L488.4 1147.36 L492.07 1149.53 L495.75 1151.72 L499.42 1153.9 L503.1 1156.1" fill="none" stroke="#0C99B3" stroke-width="4.1" stroke-linecap="butt" stroke-linejoin="round"/>
<g class="tk">
<text x="120.5" y="1210" text-anchor="end">600</text>
<text x="120.5" y="1111.77" text-anchor="end">1200</text>
<text x="120.5" y="1013.53" text-anchor="end">1800</text>
<text x="120.5" y="915.3" text-anchor="end">2400</text>
<text x="134.7" y="1237.3" text-anchor="middle">0</text>
<text x="281.8" y="1237.3" text-anchor="middle">10</text>
<text x="428.9" y="1237.3" text-anchor="middle">20</text>
<text x="576" y="1237.3" text-anchor="middle">30</text>
</g>
<text class="tt" transform="scale(1 1.04)" x="354.9" y="840.1" text-anchor="middle">TJ</text>
<text class="an" x="148.9" y="935.6"><tspan font-style="italic">r</tspan><tspan class="sup" font-style="italic" dy="-11.3">2</tspan><tspan dy="11.3">=0.92 mean=10.9</tspan></text>
<text class="an" transform="translate(60.5 1058.45) rotate(-90)" text-anchor="middle">Volume (cm<tspan class="sup" dy="-11.5">3</tspan><tspan dy="11.5">)</tspan></text>
</g>
<g>
<g fill="#FA8CFA" stroke="#000" stroke-width="1.4">
<rect x="664.5" y="1068.9" width="8.2" height="135"/>
<rect x="679.2" y="1045.9" width="8.2" height="158"/>
<rect x="693.91" y="1038.5" width="8.2" height="165.4"/>
<rect x="708.61" y="1021.6" width="8.2" height="182.3"/>
<rect x="723.32" y="1015.6" width="8.2" height="188.3"/>
<rect x="738.02" y="1015.6" width="8.2" height="188.3"/>
<rect x="752.73" y="1008.6" width="8.2" height="195.3"/>
<rect x="767.43" y="1007.2" width="8.2" height="196.7"/>
<rect x="782.13" y="1009.6" width="8.2" height="194.3"/>
<rect x="796.84" y="1007.6" width="8.2" height="196.3"/>
<rect x="811.54" y="1006.6" width="8.2" height="197.3"/>
<rect x="826.25" y="1008" width="8.2" height="195.9"/>
<rect x="840.95" y="1012" width="8.2" height="191.9"/>
<rect x="855.65" y="1014.2" width="8.2" height="189.7"/>
<rect x="870.36" y="1017" width="8.2" height="186.9"/>
<rect x="885.06" y="1020.6" width="8.2" height="183.3"/>
<rect x="899.77" y="1026.1" width="8.2" height="177.8"/>
<rect x="914.47" y="1031.1" width="8.2" height="172.8"/>
<rect x="929.18" y="1037.5" width="8.2" height="166.4"/>
<rect x="943.88" y="1045.5" width="8.2" height="158.4"/>
<rect x="958.58" y="1054.5" width="8.2" height="149.4"/>
<rect x="973.29" y="1062.5" width="8.2" height="141.4"/>
<rect x="987.99" y="1069.1" width="8.2" height="134.8"/>
<rect x="1002.7" y="1075.9" width="8.2" height="128"/>
<rect x="1017.4" y="1085.9" width="8.2" height="118"/>
</g>
<g stroke="#1c1c1c" stroke-width="1.55" fill="none">
<path d="M653.7 908.3 V1203.9 H1095.9"/>
<path d="M642.3 1203.9H653.7M642.3 1105.67H653.7M642.3 1007.43H653.7M642.3 909.2H653.7M653.7 1203.9V1215.3M800.8 1203.9V1215.3M947.9 1203.9V1215.3M1095 1203.9V1215.3"/>
</g>
<path d="M668.6 1052.1 L672.28 1049.97 L675.95 1047.87 L679.63 1045.82 L683.3 1043.8 L686.98 1041.82 L690.66 1039.88 L694.33 1037.99 L698.01 1036.14 L701.68 1034.33 L705.36 1032.57 L709.04 1030.85 L712.71 1029.19 L716.39 1027.57 L720.06 1026 L723.74 1024.49 L727.42 1023.02 L731.09 1021.61 L734.77 1020.25 L738.44 1018.94 L742.12 1017.69 L745.8 1016.5 L749.47 1015.36 L753.15 1014.28 L756.83 1013.26 L760.5 1012.29 L764.18 1011.39 L767.85 1010.54 L771.53 1009.76 L775.21 1009.04 L778.88 1008.37 L782.56 1007.77 L786.23 1007.23 L789.91 1006.76 L793.59 1006.35 L797.26 1006 L800.94 1005.71 L804.61 1005.49 L808.29 1005.33 L811.97 1005.23 L815.64 1005.2 L819.32 1005.23 L822.99 1005.32 L826.67 1005.48 L830.35 1005.7 L834.02 1005.98 L837.7 1006.32 L841.37 1006.72 L845.05 1007.19 L848.73 1007.71 L852.4 1008.3 L856.08 1008.95 L859.75 1009.66 L863.43 1010.42 L867.11 1011.25 L870.78 1012.13 L874.46 1013.07 L878.13 1014.07 L881.81 1015.13 L885.49 1016.24 L889.16 1017.41 L892.84 1018.63 L896.51 1019.91 L900.19 1021.24 L903.87 1022.62 L907.54 1024.06 L911.22 1025.54 L914.89 1027.08 L918.57 1028.66 L922.25 1030.29 L925.92 1031.97 L929.6 1033.7 L933.28 1035.47 L936.95 1037.28 L940.63 1039.14 L944.3 1041.04 L947.98 1042.97 L951.66 1044.95 L955.33 1046.97 L959.01 1049.02 L962.68 1051.12 L966.36 1053.24 L970.04 1055.4 L973.71 1057.59 L977.39 1059.82 L981.06 1062.07 L984.74 1064.35 L988.42 1066.66 L992.09 1069 L995.77 1071.36 L999.44 1073.75 L1003.12 1076.16 L1006.8 1078.59 L1010.47 1081.04 L1014.15 1083.51 L1017.82 1086 L1021.5 1088.5" fill="none" stroke="#0C99B3" stroke-width="4.1" stroke-linecap="butt" stroke-linejoin="round"/>
<g class="tk">
<text x="639.1" y="1210.3" text-anchor="end">600</text>
<text x="639.1" y="1112.07" text-anchor="end">1200</text>
<text x="639.1" y="1013.83" text-anchor="end">1800</text>
<text x="639.1" y="915.6" text-anchor="end">2400</text>
<text x="653.3" y="1237.6" text-anchor="middle">0</text>
<text x="800.4" y="1237.6" text-anchor="middle">10</text>
<text x="947.5" y="1237.6" text-anchor="middle">20</text>
<text x="1094.6" y="1237.6" text-anchor="middle">30</text>
</g>
<text class="tt" transform="scale(1 1.04)" x="873.5" y="840.58" text-anchor="middle">WYS</text>
<text class="an" x="667.5" y="936.1"><tspan font-style="italic">r</tspan><tspan class="sup" font-style="italic" dy="-11.3">2</tspan><tspan dy="11.3">=0.96 mean=11.0</tspan></text>
</g>
<g>
<g fill="#FA8CFA" stroke="#000" stroke-width="1.4">
<rect x="1208.6" y="1158.3" width="8.2" height="37.9"/>
<rect x="1223.35" y="1143.7" width="8.2" height="52.5"/>
<rect x="1238.1" y="1135.3" width="8.2" height="60.9"/>
<rect x="1252.85" y="1123.1" width="8.2" height="73.1"/>
<rect x="1267.6" y="1116.9" width="8.2" height="79.3"/>
<rect x="1282.35" y="1111.1" width="8.2" height="85.1"/>
<rect x="1297.1" y="1109.7" width="8.2" height="86.5"/>
<rect x="1311.85" y="1104.9" width="8.2" height="91.3"/>
<rect x="1326.6" y="1105.3" width="8.2" height="90.9"/>
<rect x="1341.35" y="1105.7" width="8.2" height="90.5"/>
<rect x="1356.1" y="1104.7" width="8.2" height="91.5"/>
<rect x="1370.85" y="1104.7" width="8.2" height="91.5"/>
<rect x="1385.6" y="1106.7" width="8.2" height="89.5"/>
<rect x="1400.35" y="1109.7" width="8.2" height="86.5"/>
<rect x="1415.1" y="1113.7" width="8.2" height="82.5"/>
<rect x="1429.85" y="1117.3" width="8.2" height="78.9"/>
<rect x="1444.6" y="1120.7" width="8.2" height="75.5"/>
<rect x="1459.35" y="1124.7" width="8.2" height="71.5"/>
<rect x="1474.1" y="1131.7" width="8.2" height="64.5"/>
<rect x="1488.85" y="1136.7" width="8.2" height="59.5"/>
<rect x="1503.6" y="1140.7" width="8.2" height="55.5"/>
<rect x="1518.35" y="1147.7" width="8.2" height="48.5"/>
<rect x="1533.1" y="1153.3" width="8.2" height="42.9"/>
<rect x="1547.85" y="1160.7" width="8.2" height="35.5"/>
<rect x="1562.6" y="1166.6" width="8.2" height="29.6"/>
</g>
<g stroke="#1c1c1c" stroke-width="1.55" fill="none">
<path d="M1198.9 900.6 V1196.2 H1641.1"/>
<path d="M1187.5 1196.2H1198.9M1187.5 1097.97H1198.9M1187.5 999.73H1198.9M1187.5 901.5H1198.9M1198.9 1196.2V1207.6M1346 1196.2V1207.6M1493.1 1196.2V1207.6M1640.2 1196.2V1207.6"/>
</g>
<path d="M1212.7 1146.3 L1216.39 1144.53 L1220.08 1142.77 L1223.76 1141.05 L1227.45 1139.34 L1231.14 1137.67 L1234.83 1136.02 L1238.51 1134.4 L1242.2 1132.81 L1245.89 1131.26 L1249.58 1129.73 L1253.26 1128.24 L1256.95 1126.78 L1260.64 1125.37 L1264.33 1123.98 L1268.01 1122.64 L1271.7 1121.34 L1275.39 1120.07 L1279.08 1118.85 L1282.76 1117.67 L1286.45 1116.54 L1290.14 1115.45 L1293.83 1114.4 L1297.51 1113.4 L1301.2 1112.45 L1304.89 1111.55 L1308.58 1110.69 L1312.26 1109.89 L1315.95 1109.13 L1319.64 1108.43 L1323.33 1107.77 L1327.01 1107.17 L1330.7 1106.62 L1334.39 1106.13 L1338.08 1105.69 L1341.76 1105.3 L1345.45 1104.96 L1349.14 1104.68 L1352.83 1104.46 L1356.51 1104.29 L1360.2 1104.17 L1363.89 1104.11 L1367.58 1104.1 L1371.26 1104.15 L1374.95 1104.26 L1378.64 1104.42 L1382.33 1104.63 L1386.01 1104.9 L1389.7 1105.22 L1393.39 1105.59 L1397.08 1106.02 L1400.76 1106.5 L1404.45 1107.03 L1408.14 1107.62 L1411.83 1108.26 L1415.51 1108.95 L1419.2 1109.68 L1422.89 1110.47 L1426.58 1111.31 L1430.26 1112.2 L1433.95 1113.13 L1437.64 1114.11 L1441.33 1115.14 L1445.01 1116.22 L1448.7 1117.33 L1452.39 1118.49 L1456.08 1119.7 L1459.76 1120.94 L1463.45 1122.23 L1467.14 1123.55 L1470.83 1124.92 L1474.51 1126.32 L1478.2 1127.76 L1481.89 1129.23 L1485.58 1130.74 L1489.26 1132.28 L1492.95 1133.85 L1496.64 1135.45 L1500.33 1137.08 L1504.01 1138.74 L1507.7 1140.42 L1511.39 1142.14 L1515.08 1143.87 L1518.76 1145.63 L1522.45 1147.41 L1526.14 1149.21 L1529.83 1151.03 L1533.51 1152.87 L1537.2 1154.72 L1540.89 1156.59 L1544.58 1158.47 L1548.26 1160.37 L1551.95 1162.28 L1555.64 1164.2 L1559.33 1166.12 L1563.01 1168.06 L1566.7 1170" fill="none" stroke="#0C99B3" stroke-width="4.1" stroke-linecap="butt" stroke-linejoin="round"/>
<g class="tk">
<text x="1184.3" y="1202.6" text-anchor="end">600</text>
<text x="1184.3" y="1104.37" text-anchor="end">1200</text>
<text x="1184.3" y="1006.13" text-anchor="end">1800</text>
<text x="1184.3" y="907.9" text-anchor="end">2400</text>
<text x="1198.5" y="1229.9" text-anchor="middle">0</text>
<text x="1345.6" y="1229.9" text-anchor="middle">10</text>
<text x="1492.7" y="1229.9" text-anchor="middle">20</text>
<text x="1639.8" y="1229.9" text-anchor="middle">30</text>
</g>
<text class="tt" transform="scale(1 1.04)" x="1418.7" y="833.08" text-anchor="middle">XA</text>
<text class="an" x="1212.7" y="928.4"><tspan font-style="italic">r</tspan><tspan class="sup" font-style="italic" dy="-11.3">2</tspan><tspan dy="11.3">=0.96 mean=11.4</tspan></text>
</g>
<g>
<g fill="#FA8CFA" stroke="#000" stroke-width="1.4">
<rect x="1746.5" y="1123.4" width="8.2" height="72.9"/>
<rect x="1761.21" y="1106.4" width="8.2" height="89.9"/>
<rect x="1775.92" y="1087.3" width="8.2" height="109"/>
<rect x="1790.64" y="1077.7" width="8.2" height="118.6"/>
<rect x="1805.35" y="1065.3" width="8.2" height="131"/>
<rect x="1820.06" y="1060.7" width="8.2" height="135.6"/>
<rect x="1834.78" y="1051.7" width="8.2" height="144.6"/>
<rect x="1849.49" y="1047.1" width="8.2" height="149.2"/>
<rect x="1864.2" y="1044.7" width="8.2" height="151.6"/>
<rect x="1878.91" y="1042.7" width="8.2" height="153.6"/>
<rect x="1893.62" y="1043.3" width="8.2" height="153"/>
<rect x="1908.34" y="1042.1" width="8.2" height="154.2"/>
<rect x="1923.05" y="1043.3" width="8.2" height="153"/>
<rect x="1937.76" y="1047.3" width="8.2" height="149"/>
<rect x="1952.47" y="1049.7" width="8.2" height="146.6"/>
<rect x="1967.19" y="1056.7" width="8.2" height="139.6"/>
<rect x="1981.9" y="1060.3" width="8.2" height="136"/>
<rect x="1996.61" y="1067.7" width="8.2" height="128.6"/>
<rect x="2011.32" y="1073.7" width="8.2" height="122.6"/>
<rect x="2026.04" y="1082.1" width="8.2" height="114.2"/>
<rect x="2040.75" y="1089.6" width="8.2" height="106.7"/>
<rect x="2055.46" y="1095.6" width="8.2" height="100.7"/>
<rect x="2070.17" y="1104.6" width="8.2" height="91.7"/>
<rect x="2084.89" y="1110" width="8.2" height="86.3"/>
<rect x="2099.6" y="1123.2" width="8.2" height="73.1"/>
</g>
<g stroke="#1c1c1c" stroke-width="1.55" fill="none">
<path d="M1735.7 900.7 V1196.3 H2177.9"/>
<path d="M1724.3 1196.3H1735.7M1724.3 1098.07H1735.7M1724.3 999.83H1735.7M1724.3 901.6H1735.7M1735.7 1196.3V1207.7M1882.8 1196.3V1207.7M2029.9 1196.3V1207.7M2177 1196.3V1207.7"/>
</g>
<path d="M1750.6 1108 L1754.28 1105.44 L1757.96 1102.9 L1761.63 1100.38 L1765.31 1097.9 L1768.99 1095.44 L1772.67 1093.02 L1776.35 1090.63 L1780.02 1088.28 L1783.7 1085.96 L1787.38 1083.69 L1791.06 1081.45 L1794.74 1079.26 L1798.42 1077.12 L1802.09 1075.02 L1805.77 1072.97 L1809.45 1070.97 L1813.13 1069.02 L1816.81 1067.13 L1820.48 1065.29 L1824.16 1063.51 L1827.84 1061.78 L1831.52 1060.12 L1835.2 1058.52 L1838.88 1056.98 L1842.55 1055.5 L1846.23 1054.09 L1849.91 1052.75 L1853.59 1051.48 L1857.27 1050.27 L1860.94 1049.14 L1864.62 1048.08 L1868.3 1047.09 L1871.98 1046.17 L1875.66 1045.33 L1879.33 1044.56 L1883.01 1043.86 L1886.69 1043.25 L1890.37 1042.71 L1894.05 1042.25 L1897.72 1041.86 L1901.4 1041.56 L1905.08 1041.33 L1908.76 1041.18 L1912.44 1041.11 L1916.12 1041.11 L1919.79 1041.2 L1923.47 1041.37 L1927.15 1041.61 L1930.83 1041.94 L1934.51 1042.34 L1938.18 1042.83 L1941.86 1043.39 L1945.54 1044.02 L1949.22 1044.74 L1952.9 1045.53 L1956.57 1046.39 L1960.25 1047.33 L1963.93 1048.34 L1967.61 1049.43 L1971.29 1050.59 L1974.97 1051.82 L1978.64 1053.12 L1982.32 1054.48 L1986 1055.92 L1989.68 1057.42 L1993.36 1058.98 L1997.03 1060.61 L2000.71 1062.29 L2004.39 1064.04 L2008.07 1065.85 L2011.75 1067.71 L2015.42 1069.63 L2019.1 1071.61 L2022.78 1073.63 L2026.46 1075.71 L2030.14 1077.83 L2033.82 1080 L2037.49 1082.22 L2041.17 1084.48 L2044.85 1086.78 L2048.53 1089.11 L2052.21 1091.49 L2055.88 1093.9 L2059.56 1096.35 L2063.24 1098.82 L2066.92 1101.33 L2070.6 1103.87 L2074.27 1106.42 L2077.95 1109.01 L2081.63 1111.61 L2085.31 1114.24 L2088.99 1116.88 L2092.67 1119.54 L2096.34 1122.22 L2100.02 1124.9 L2103.7 1127.6" fill="none" stroke="#0C99B3" stroke-width="4.1" stroke-linecap="butt" stroke-linejoin="round"/>
<g class="tk">
<text x="1721.1" y="1202.7" text-anchor="end">600</text>
<text x="1721.1" y="1104.47" text-anchor="end">1200</text>
<text x="1721.1" y="1006.23" text-anchor="end">1800</text>
<text x="1721.1" y="908" text-anchor="end">2400</text>
<text x="1735.3" y="1230" text-anchor="middle">0</text>
<text x="1882.4" y="1230" text-anchor="middle">10</text>
<text x="2029.5" y="1230" text-anchor="middle">20</text>
<text x="2176.6" y="1230" text-anchor="middle">30</text>
</g>
<text class="tt" transform="scale(1 1.04)" x="1955.5" y="833.17" text-anchor="middle">XN</text>
<text class="an" x="1749.5" y="928.5"><tspan font-style="italic">r</tspan><tspan class="sup" font-style="italic" dy="-11.3">2</tspan><tspan dy="11.3">=0.96 mean=12.1</tspan></text>
</g>
<g>
<g fill="#FA8CFA" stroke="#000" stroke-width="1.4">
<rect x="145.7" y="1550" width="8.2" height="60.3"/>
<rect x="160.44" y="1543" width="8.2" height="67.3"/>
<rect x="175.18" y="1526.2" width="8.2" height="84.1"/>
<rect x="189.91" y="1521" width="8.2" height="89.3"/>
<rect x="204.65" y="1503.8" width="8.2" height="106.5"/>
<rect x="219.39" y="1502.9" width="8.2" height="107.4"/>
<rect x="234.13" y="1491.5" width="8.2" height="118.8"/>
<rect x="248.86" y="1478.7" width="8.2" height="131.6"/>
<rect x="263.6" y="1476.5" width="8.2" height="133.8"/>
<rect x="278.34" y="1469.9" width="8.2" height="140.4"/>
<rect x="293.07" y="1466.9" width="8.2" height="143.4"/>
<rect x="307.81" y="1466.9" width="8.2" height="143.4"/>
<rect x="322.55" y="1464.3" width="8.2" height="146"/>
<rect x="337.29" y="1462.9" width="8.2" height="147.4"/>
<rect x="352.02" y="1465.5" width="8.2" height="144.8"/>
<rect x="366.76" y="1466.5" width="8.2" height="143.8"/>
<rect x="381.5" y="1466.3" width="8.2" height="144"/>
<rect x="396.24" y="1467.9" width="8.2" height="142.4"/>
<rect x="410.97" y="1472.9" width="8.2" height="137.4"/>
<rect x="425.71" y="1476.9" width="8.2" height="133.4"/>
<rect x="440.45" y="1481.9" width="8.2" height="128.4"/>
<rect x="455.19" y="1488.3" width="8.2" height="122"/>
<rect x="469.92" y="1490.9" width="8.2" height="119.4"/>
<rect x="484.66" y="1499.3" width="8.2" height="111"/>
<rect x="499.4" y="1507.8" width="8.2" height="102.5"/>
</g>
<g stroke="#1c1c1c" stroke-width="1.55" fill="none">
<path d="M136 1314.7 V1610.3 H578.2"/>
<path d="M124.6 1610.3H136M124.6 1512.07H136M124.6 1413.83H136M124.6 1315.6H136M136 1610.3V1621.7M283.1 1610.3V1621.7M430.2 1610.3V1621.7M577.3 1610.3V1621.7"/>
</g>
<path d="M149.8 1545.2 L153.48 1542.76 L157.17 1540.33 L160.85 1537.9 L164.54 1535.49 L168.22 1533.1 L171.91 1530.71 L175.59 1528.35 L179.28 1526 L182.96 1523.67 L186.64 1521.36 L190.33 1519.07 L194.01 1516.81 L197.7 1514.57 L201.38 1512.36 L205.07 1510.18 L208.75 1508.03 L212.43 1505.91 L216.12 1503.82 L219.8 1501.76 L223.49 1499.74 L227.17 1497.76 L230.86 1495.81 L234.54 1493.91 L238.23 1492.05 L241.91 1490.23 L245.59 1488.45 L249.28 1486.72 L252.96 1485.04 L256.65 1483.4 L260.33 1481.81 L264.02 1480.27 L267.7 1478.79 L271.38 1477.35 L275.07 1475.97 L278.75 1474.65 L282.44 1473.38 L286.12 1472.17 L289.81 1471.01 L293.49 1469.92 L297.18 1468.88 L300.86 1467.9 L304.54 1466.99 L308.23 1466.14 L311.91 1465.35 L315.6 1464.62 L319.28 1463.95 L322.97 1463.35 L326.65 1462.82 L330.33 1462.35 L334.02 1461.94 L337.7 1461.6 L341.39 1461.33 L345.07 1461.13 L348.76 1460.99 L352.44 1460.91 L356.12 1460.91 L359.81 1460.96 L363.49 1461.09 L367.18 1461.28 L370.86 1461.54 L374.55 1461.86 L378.23 1462.25 L381.92 1462.7 L385.6 1463.22 L389.28 1463.81 L392.97 1464.45 L396.65 1465.16 L400.34 1465.93 L404.02 1466.77 L407.71 1467.66 L411.39 1468.62 L415.07 1469.64 L418.76 1470.71 L422.44 1471.85 L426.13 1473.04 L429.81 1474.29 L433.5 1475.59 L437.18 1476.95 L440.87 1478.36 L444.55 1479.83 L448.23 1481.34 L451.92 1482.91 L455.6 1484.52 L459.29 1486.19 L462.97 1487.9 L466.66 1489.65 L470.34 1491.45 L474.02 1493.29 L477.71 1495.18 L481.39 1497.1 L485.08 1499.06 L488.76 1501.06 L492.45 1503.1 L496.13 1505.16 L499.82 1507.27 L503.5 1509.4" fill="none" stroke="#0C99B3" stroke-width="4.1" stroke-linecap="butt" stroke-linejoin="round"/>
<g class="tk">
<text x="121.4" y="1616.7" text-anchor="end">600</text>
<text x="121.4" y="1518.47" text-anchor="end">1200</text>
<text x="121.4" y="1420.23" text-anchor="end">1800</text>
<text x="121.4" y="1322" text-anchor="end">2400</text>
<text x="135.6" y="1644" text-anchor="middle">0</text>
<text x="282.7" y="1644" text-anchor="middle">10</text>
<text x="429.8" y="1644" text-anchor="middle">20</text>
<text x="576.9" y="1644" text-anchor="middle">30</text>
</g>
<text class="tt" transform="scale(1 1.04)" x="355.8" y="1231.54" text-anchor="middle">YA</text>
<text class="an" x="149.8" y="1341.4"><tspan font-style="italic">r</tspan><tspan class="sup" font-style="italic" dy="-11.3">2</tspan><tspan dy="11.3">=0.98 mean=14.9</tspan></text>
<text class="an" transform="translate(60.5 1465.15) rotate(-90)" text-anchor="middle">Volume (cm<tspan class="sup" dy="-11.5">3</tspan><tspan dy="11.5">)</tspan></text>
<text class="an" x="354.8" y="1678.3" text-anchor="middle">Internode order</text>
</g>
<g>
<g fill="#FA8CFA" stroke="#000" stroke-width="1.4">
<rect x="666.9" y="1502.8" width="8.2" height="107.4"/>
<rect x="681.61" y="1490" width="8.2" height="120.2"/>
<rect x="696.32" y="1478" width="8.2" height="132.2"/>
<rect x="711.04" y="1470.4" width="8.2" height="139.8"/>
<rect x="725.75" y="1461.8" width="8.2" height="148.4"/>
<rect x="740.46" y="1460.6" width="8.2" height="149.6"/>
<rect x="755.17" y="1460" width="8.2" height="150.2"/>
<rect x="769.89" y="1457" width="8.2" height="153.2"/>
<rect x="784.6" y="1453" width="8.2" height="157.2"/>
<rect x="799.31" y="1454" width="8.2" height="156.2"/>
<rect x="814.02" y="1453.6" width="8.2" height="156.6"/>
<rect x="828.74" y="1454" width="8.2" height="156.2"/>
<rect x="843.45" y="1456" width="8.2" height="154.2"/>
<rect x="858.16" y="1459.6" width="8.2" height="150.6"/>
<rect x="872.87" y="1463.2" width="8.2" height="147"/>
<rect x="887.59" y="1467" width="8.2" height="143.2"/>
<rect x="902.3" y="1473" width="8.2" height="137.2"/>
<rect x="917.01" y="1480" width="8.2" height="130.2"/>
<rect x="931.72" y="1485" width="8.2" height="125.2"/>
<rect x="946.44" y="1491" width="8.2" height="119.2"/>
<rect x="961.15" y="1500" width="8.2" height="110.2"/>
<rect x="975.86" y="1505.9" width="8.2" height="104.3"/>
<rect x="990.57" y="1515.5" width="8.2" height="94.7"/>
<rect x="1005.29" y="1523.9" width="8.2" height="86.3"/>
<rect x="1020" y="1527.5" width="8.2" height="82.7"/>
</g>
<g stroke="#1c1c1c" stroke-width="1.55" fill="none">
<path d="M656.1 1314.6 V1610.2 H1098.3"/>
<path d="M644.7 1610.2H656.1M644.7 1511.97H656.1M644.7 1413.73H656.1M644.7 1315.5H656.1M656.1 1610.2V1621.6M803.2 1610.2V1621.6M950.3 1610.2V1621.6M1097.4 1610.2V1621.6"/>
</g>
<path d="M671 1493 L674.68 1491.1 L678.36 1489.24 L682.03 1487.4 L685.71 1485.61 L689.39 1483.85 L693.07 1482.12 L696.75 1480.44 L700.42 1478.8 L704.1 1477.19 L707.78 1475.63 L711.46 1474.11 L715.14 1472.63 L718.82 1471.2 L722.49 1469.81 L726.17 1468.47 L729.85 1467.18 L733.53 1465.94 L737.21 1464.74 L740.88 1463.59 L744.56 1462.5 L748.24 1461.45 L751.92 1460.46 L755.6 1459.52 L759.27 1458.63 L762.95 1457.8 L766.63 1457.02 L770.31 1456.29 L773.99 1455.62 L777.67 1455.01 L781.34 1454.45 L785.02 1453.95 L788.7 1453.5 L792.38 1453.12 L796.06 1452.78 L799.73 1452.51 L803.41 1452.3 L807.09 1452.14 L810.77 1452.04 L814.45 1452 L818.12 1452.02 L821.8 1452.1 L825.48 1452.24 L829.16 1452.43 L832.84 1452.69 L836.52 1453.01 L840.19 1453.39 L843.87 1453.83 L847.55 1454.32 L851.23 1454.88 L854.91 1455.49 L858.58 1456.16 L862.26 1456.89 L865.94 1457.67 L869.62 1458.51 L873.3 1459.41 L876.97 1460.36 L880.65 1461.37 L884.33 1462.43 L888.01 1463.54 L891.69 1464.71 L895.37 1465.93 L899.04 1467.19 L902.72 1468.51 L906.4 1469.88 L910.08 1471.29 L913.76 1472.75 L917.43 1474.26 L921.11 1475.81 L924.79 1477.41 L928.47 1479.05 L932.15 1480.73 L935.82 1482.45 L939.5 1484.21 L943.18 1486.01 L946.86 1487.85 L950.54 1489.72 L954.22 1491.63 L957.89 1493.57 L961.57 1495.55 L965.25 1497.55 L968.93 1499.59 L972.61 1501.65 L976.28 1503.75 L979.96 1505.87 L983.64 1508.01 L987.32 1510.18 L991 1512.37 L994.67 1514.58 L998.35 1516.82 L1002.03 1519.07 L1005.71 1521.34 L1009.39 1523.62 L1013.07 1525.92 L1016.74 1528.24 L1020.42 1530.56 L1024.1 1532.9" fill="none" stroke="#0C99B3" stroke-width="4.1" stroke-linecap="butt" stroke-linejoin="round"/>
<g class="tk">
<text x="641.5" y="1616.6" text-anchor="end">600</text>
<text x="641.5" y="1518.37" text-anchor="end">1200</text>
<text x="641.5" y="1420.13" text-anchor="end">1800</text>
<text x="641.5" y="1321.9" text-anchor="end">2400</text>
<text x="655.7" y="1643.9" text-anchor="middle">0</text>
<text x="802.8" y="1643.9" text-anchor="middle">10</text>
<text x="949.9" y="1643.9" text-anchor="middle">20</text>
<text x="1097" y="1643.9" text-anchor="middle">30</text>
</g>
<text class="tt" transform="scale(1 1.04)" x="875.9" y="1231.44" text-anchor="middle">YF</text>
<text class="an" x="669.9" y="1341.3"><tspan font-style="italic">r</tspan><tspan class="sup" font-style="italic" dy="-11.3">2</tspan><tspan dy="11.3">=0.98 mean=10.8</tspan></text>
<text class="an" x="874.9" y="1678.2" text-anchor="middle">Internode order</text>
</g>
<g>
<g fill="#FA8CFA" stroke="#000" stroke-width="1.4">
<rect x="1201.2" y="1551.3" width="8.2" height="58.9"/>
<rect x="1215.96" y="1536.9" width="8.2" height="73.3"/>
<rect x="1230.72" y="1518.9" width="8.2" height="91.3"/>
<rect x="1245.48" y="1510.3" width="8.2" height="99.9"/>
<rect x="1260.23" y="1500.8" width="8.2" height="109.4"/>
<rect x="1274.99" y="1494.4" width="8.2" height="115.8"/>
<rect x="1289.75" y="1491" width="8.2" height="119.2"/>
<rect x="1304.51" y="1486" width="8.2" height="124.2"/>
<rect x="1319.27" y="1485" width="8.2" height="125.2"/>
<rect x="1334.03" y="1485" width="8.2" height="125.2"/>
<rect x="1348.78" y="1484.4" width="8.2" height="125.8"/>
<rect x="1363.54" y="1484.4" width="8.2" height="125.8"/>
<rect x="1378.3" y="1483" width="8.2" height="127.2"/>
<rect x="1393.06" y="1487" width="8.2" height="123.2"/>
<rect x="1407.82" y="1490" width="8.2" height="120.2"/>
<rect x="1422.58" y="1497" width="8.2" height="113.2"/>
<rect x="1437.33" y="1506.5" width="8.2" height="103.7"/>
<rect x="1452.09" y="1514.9" width="8.2" height="95.3"/>
<rect x="1466.85" y="1518.5" width="8.2" height="91.7"/>
<rect x="1481.61" y="1520.9" width="8.2" height="89.3"/>
<rect x="1496.37" y="1523.5" width="8.2" height="86.7"/>
<rect x="1511.12" y="1534.3" width="8.2" height="75.9"/>
<rect x="1525.88" y="1546.3" width="8.2" height="63.9"/>
<rect x="1540.64" y="1553.9" width="8.2" height="56.3"/>
<rect x="1555.4" y="1548.9" width="8.2" height="61.3"/>
</g>
<g stroke="#1c1c1c" stroke-width="1.55" fill="none">
<path d="M1191.4 1314.6 V1610.2 H1633.6"/>
<path d="M1180 1610.2H1191.4M1180 1511.97H1191.4M1180 1413.73H1191.4M1180 1315.5H1191.4M1191.4 1610.2V1621.6M1338.5 1610.2V1621.6M1485.6 1610.2V1621.6M1632.7 1610.2V1621.6"/>
</g>
<path d="M1205.3 1536.9 L1208.99 1534.72 L1212.68 1532.57 L1216.37 1530.45 L1220.06 1528.35 L1223.75 1526.28 L1227.44 1524.25 L1231.13 1522.25 L1234.82 1520.28 L1238.51 1518.35 L1242.2 1516.46 L1245.89 1514.61 L1249.58 1512.8 L1253.26 1511.03 L1256.95 1509.3 L1260.64 1507.62 L1264.33 1505.99 L1268.02 1504.41 L1271.71 1502.87 L1275.4 1501.39 L1279.09 1499.95 L1282.78 1498.58 L1286.47 1497.25 L1290.16 1495.98 L1293.85 1494.77 L1297.54 1493.62 L1301.23 1492.52 L1304.92 1491.48 L1308.61 1490.51 L1312.3 1489.59 L1315.99 1488.74 L1319.68 1487.96 L1323.37 1487.23 L1327.06 1486.57 L1330.75 1485.98 L1334.44 1485.45 L1338.12 1484.98 L1341.81 1484.58 L1345.5 1484.25 L1349.19 1483.99 L1352.88 1483.79 L1356.57 1483.67 L1360.26 1483.61 L1363.95 1483.61 L1367.64 1483.69 L1371.33 1483.83 L1375.02 1484.04 L1378.71 1484.32 L1382.4 1484.66 L1386.09 1485.08 L1389.78 1485.56 L1393.47 1486.1 L1397.16 1486.72 L1400.85 1487.39 L1404.54 1488.13 L1408.23 1488.94 L1411.92 1489.81 L1415.61 1490.74 L1419.3 1491.73 L1422.99 1492.79 L1426.67 1493.9 L1430.36 1495.07 L1434.05 1496.3 L1437.74 1497.59 L1441.43 1498.93 L1445.12 1500.33 L1448.81 1501.78 L1452.5 1503.28 L1456.19 1504.84 L1459.88 1506.44 L1463.57 1508.09 L1467.26 1509.79 L1470.95 1511.53 L1474.64 1513.32 L1478.33 1515.15 L1482.02 1517.01 L1485.71 1518.92 L1489.4 1520.87 L1493.09 1522.85 L1496.78 1524.87 L1500.47 1526.92 L1504.16 1529 L1507.85 1531.12 L1511.54 1533.25 L1515.22 1535.42 L1518.91 1537.61 L1522.6 1539.83 L1526.29 1542.06 L1529.98 1544.32 L1533.67 1546.6 L1537.36 1548.89 L1541.05 1551.19 L1544.74 1553.51 L1548.43 1555.85 L1552.12 1558.19 L1555.81 1560.54 L1559.5 1562.9" fill="none" stroke="#0C99B3" stroke-width="4.1" stroke-linecap="butt" stroke-linejoin="round"/>
<g class="tk">
<text x="1176.8" y="1616.6" text-anchor="end">600</text>
<text x="1176.8" y="1518.37" text-anchor="end">1200</text>
<text x="1176.8" y="1420.13" text-anchor="end">1800</text>
<text x="1176.8" y="1321.9" text-anchor="end">2400</text>
<text x="1191" y="1643.9" text-anchor="middle">0</text>
<text x="1338.1" y="1643.9" text-anchor="middle">10</text>
<text x="1485.2" y="1643.9" text-anchor="middle">20</text>
<text x="1632.3" y="1643.9" text-anchor="middle">30</text>
</g>
<text class="tt" transform="scale(1 1.04)" x="1411.2" y="1231.44" text-anchor="middle">ZT</text>
<text class="an" x="1205.2" y="1341.3"><tspan font-style="italic">r</tspan><tspan class="sup" font-style="italic" dy="-11.3">2</tspan><tspan dy="11.3">=0.94 mean=11.6</tspan></text>
<text class="an" x="1410.2" y="1678.2" text-anchor="middle">Internode order</text>
</g>
<g>
<g fill="#FA8CFA" stroke="#000" stroke-width="1.4">
<rect x="1751.1" y="1562.2" width="8.2" height="45.7"/>
<rect x="1765.81" y="1552.8" width="8.2" height="55.1"/>
<rect x="1780.53" y="1539.6" width="8.2" height="68.3"/>
<rect x="1795.24" y="1529.6" width="8.2" height="78.3"/>
<rect x="1809.95" y="1518.6" width="8.2" height="89.3"/>
<rect x="1824.66" y="1514" width="8.2" height="93.9"/>
<rect x="1839.38" y="1513" width="8.2" height="94.9"/>
<rect x="1854.09" y="1506.4" width="8.2" height="101.5"/>
<rect x="1868.8" y="1509" width="8.2" height="98.9"/>
<rect x="1883.51" y="1506.6" width="8.2" height="101.3"/>
<rect x="1898.23" y="1506.4" width="8.2" height="101.5"/>
<rect x="1912.94" y="1506.4" width="8.2" height="101.5"/>
<rect x="1927.65" y="1504.4" width="8.2" height="103.5"/>
<rect x="1942.36" y="1506.6" width="8.2" height="101.3"/>
<rect x="1957.08" y="1508" width="8.2" height="99.9"/>
<rect x="1971.79" y="1514" width="8.2" height="93.9"/>
<rect x="1986.5" y="1517" width="8.2" height="90.9"/>
<rect x="2001.21" y="1518.6" width="8.2" height="89.3"/>
<rect x="2015.93" y="1526" width="8.2" height="81.9"/>
<rect x="2030.64" y="1529.6" width="8.2" height="78.3"/>
<rect x="2045.35" y="1554.2" width="8.2" height="53.7"/>
<rect x="2060.06" y="1540.4" width="8.2" height="67.5"/>
<rect x="2074.78" y="1551.4" width="8.2" height="56.5"/>
<rect x="2089.49" y="1574.1" width="8.2" height="33.8"/>
<rect x="2104.2" y="1584.1" width="8.2" height="23.8"/>
</g>
<g stroke="#1c1c1c" stroke-width="1.55" fill="none">
<path d="M1740.2 1312.3 V1607.9 H2182.4"/>
<path d="M1728.8 1607.9H1740.2M1728.8 1509.67H1740.2M1728.8 1411.43H1740.2M1728.8 1313.2H1740.2M1740.2 1607.9V1619.3M1887.3 1607.9V1619.3M2034.4 1607.9V1619.3M2181.5 1607.9V1619.3"/>
</g>
<path d="M1755.2 1556 L1758.88 1553.86 L1762.56 1551.74 L1766.23 1549.65 L1769.91 1547.57 L1773.59 1545.53 L1777.27 1543.51 L1780.95 1541.52 L1784.62 1539.56 L1788.3 1537.63 L1791.98 1535.74 L1795.66 1533.88 L1799.34 1532.07 L1803.02 1530.29 L1806.69 1528.55 L1810.37 1526.85 L1814.05 1525.2 L1817.73 1523.59 L1821.41 1522.03 L1825.08 1520.51 L1828.76 1519.05 L1832.44 1517.64 L1836.12 1516.28 L1839.8 1514.97 L1843.48 1513.72 L1847.15 1512.52 L1850.83 1511.38 L1854.51 1510.3 L1858.19 1509.28 L1861.87 1508.32 L1865.54 1507.42 L1869.22 1506.58 L1872.9 1505.81 L1876.58 1505.1 L1880.26 1504.45 L1883.93 1503.87 L1887.61 1503.35 L1891.29 1502.9 L1894.97 1502.51 L1898.65 1502.2 L1902.33 1501.95 L1906 1501.76 L1909.68 1501.65 L1913.36 1501.6 L1917.04 1501.62 L1920.72 1501.71 L1924.39 1501.87 L1928.07 1502.09 L1931.75 1502.38 L1935.43 1502.74 L1939.11 1503.16 L1942.78 1503.65 L1946.46 1504.21 L1950.14 1504.83 L1953.82 1505.52 L1957.5 1506.27 L1961.18 1507.08 L1964.85 1507.96 L1968.53 1508.89 L1972.21 1509.89 L1975.89 1510.95 L1979.57 1512.07 L1983.24 1513.24 L1986.92 1514.47 L1990.6 1515.76 L1994.28 1517.1 L1997.96 1518.49 L2001.63 1519.93 L2005.31 1521.43 L2008.99 1522.97 L2012.67 1524.56 L2016.35 1526.2 L2020.03 1527.88 L2023.7 1529.6 L2027.38 1531.37 L2031.06 1533.17 L2034.74 1535.01 L2038.42 1536.89 L2042.09 1538.81 L2045.77 1540.75 L2049.45 1542.73 L2053.13 1544.74 L2056.81 1546.78 L2060.48 1548.84 L2064.16 1550.93 L2067.84 1553.04 L2071.52 1555.17 L2075.2 1557.32 L2078.88 1559.49 L2082.55 1561.68 L2086.23 1563.88 L2089.91 1566.1 L2093.59 1568.32 L2097.27 1570.55 L2100.94 1572.8 L2104.62 1575.05 L2108.3 1577.3" fill="none" stroke="#0C99B3" stroke-width="4.1" stroke-linecap="butt" stroke-linejoin="round"/>
<g class="tk">
<text x="1725.6" y="1614.3" text-anchor="end">600</text>
<text x="1725.6" y="1516.07" text-anchor="end">1200</text>
<text x="1725.6" y="1417.83" text-anchor="end">1800</text>
<text x="1725.6" y="1319.6" text-anchor="end">2400</text>
<text x="1739.8" y="1641.6" text-anchor="middle">0</text>
<text x="1886.9" y="1641.6" text-anchor="middle">10</text>
<text x="2034" y="1641.6" text-anchor="middle">20</text>
<text x="2181.1" y="1641.6" text-anchor="middle">30</text>
</g>
<text class="tt" transform="scale(1 1.04)" x="1960" y="1229.42" text-anchor="middle">YX</text>
<text class="an" x="1754" y="1339.5"><tspan font-style="italic">r</tspan><tspan class="sup" font-style="italic" dy="-11.3">2</tspan><tspan dy="11.3">=0.95 mean=11.8</tspan></text>
<text class="an" x="1959" y="1675.9" text-anchor="middle">Internode order</text>
</g>
</svg>
</body></html>
